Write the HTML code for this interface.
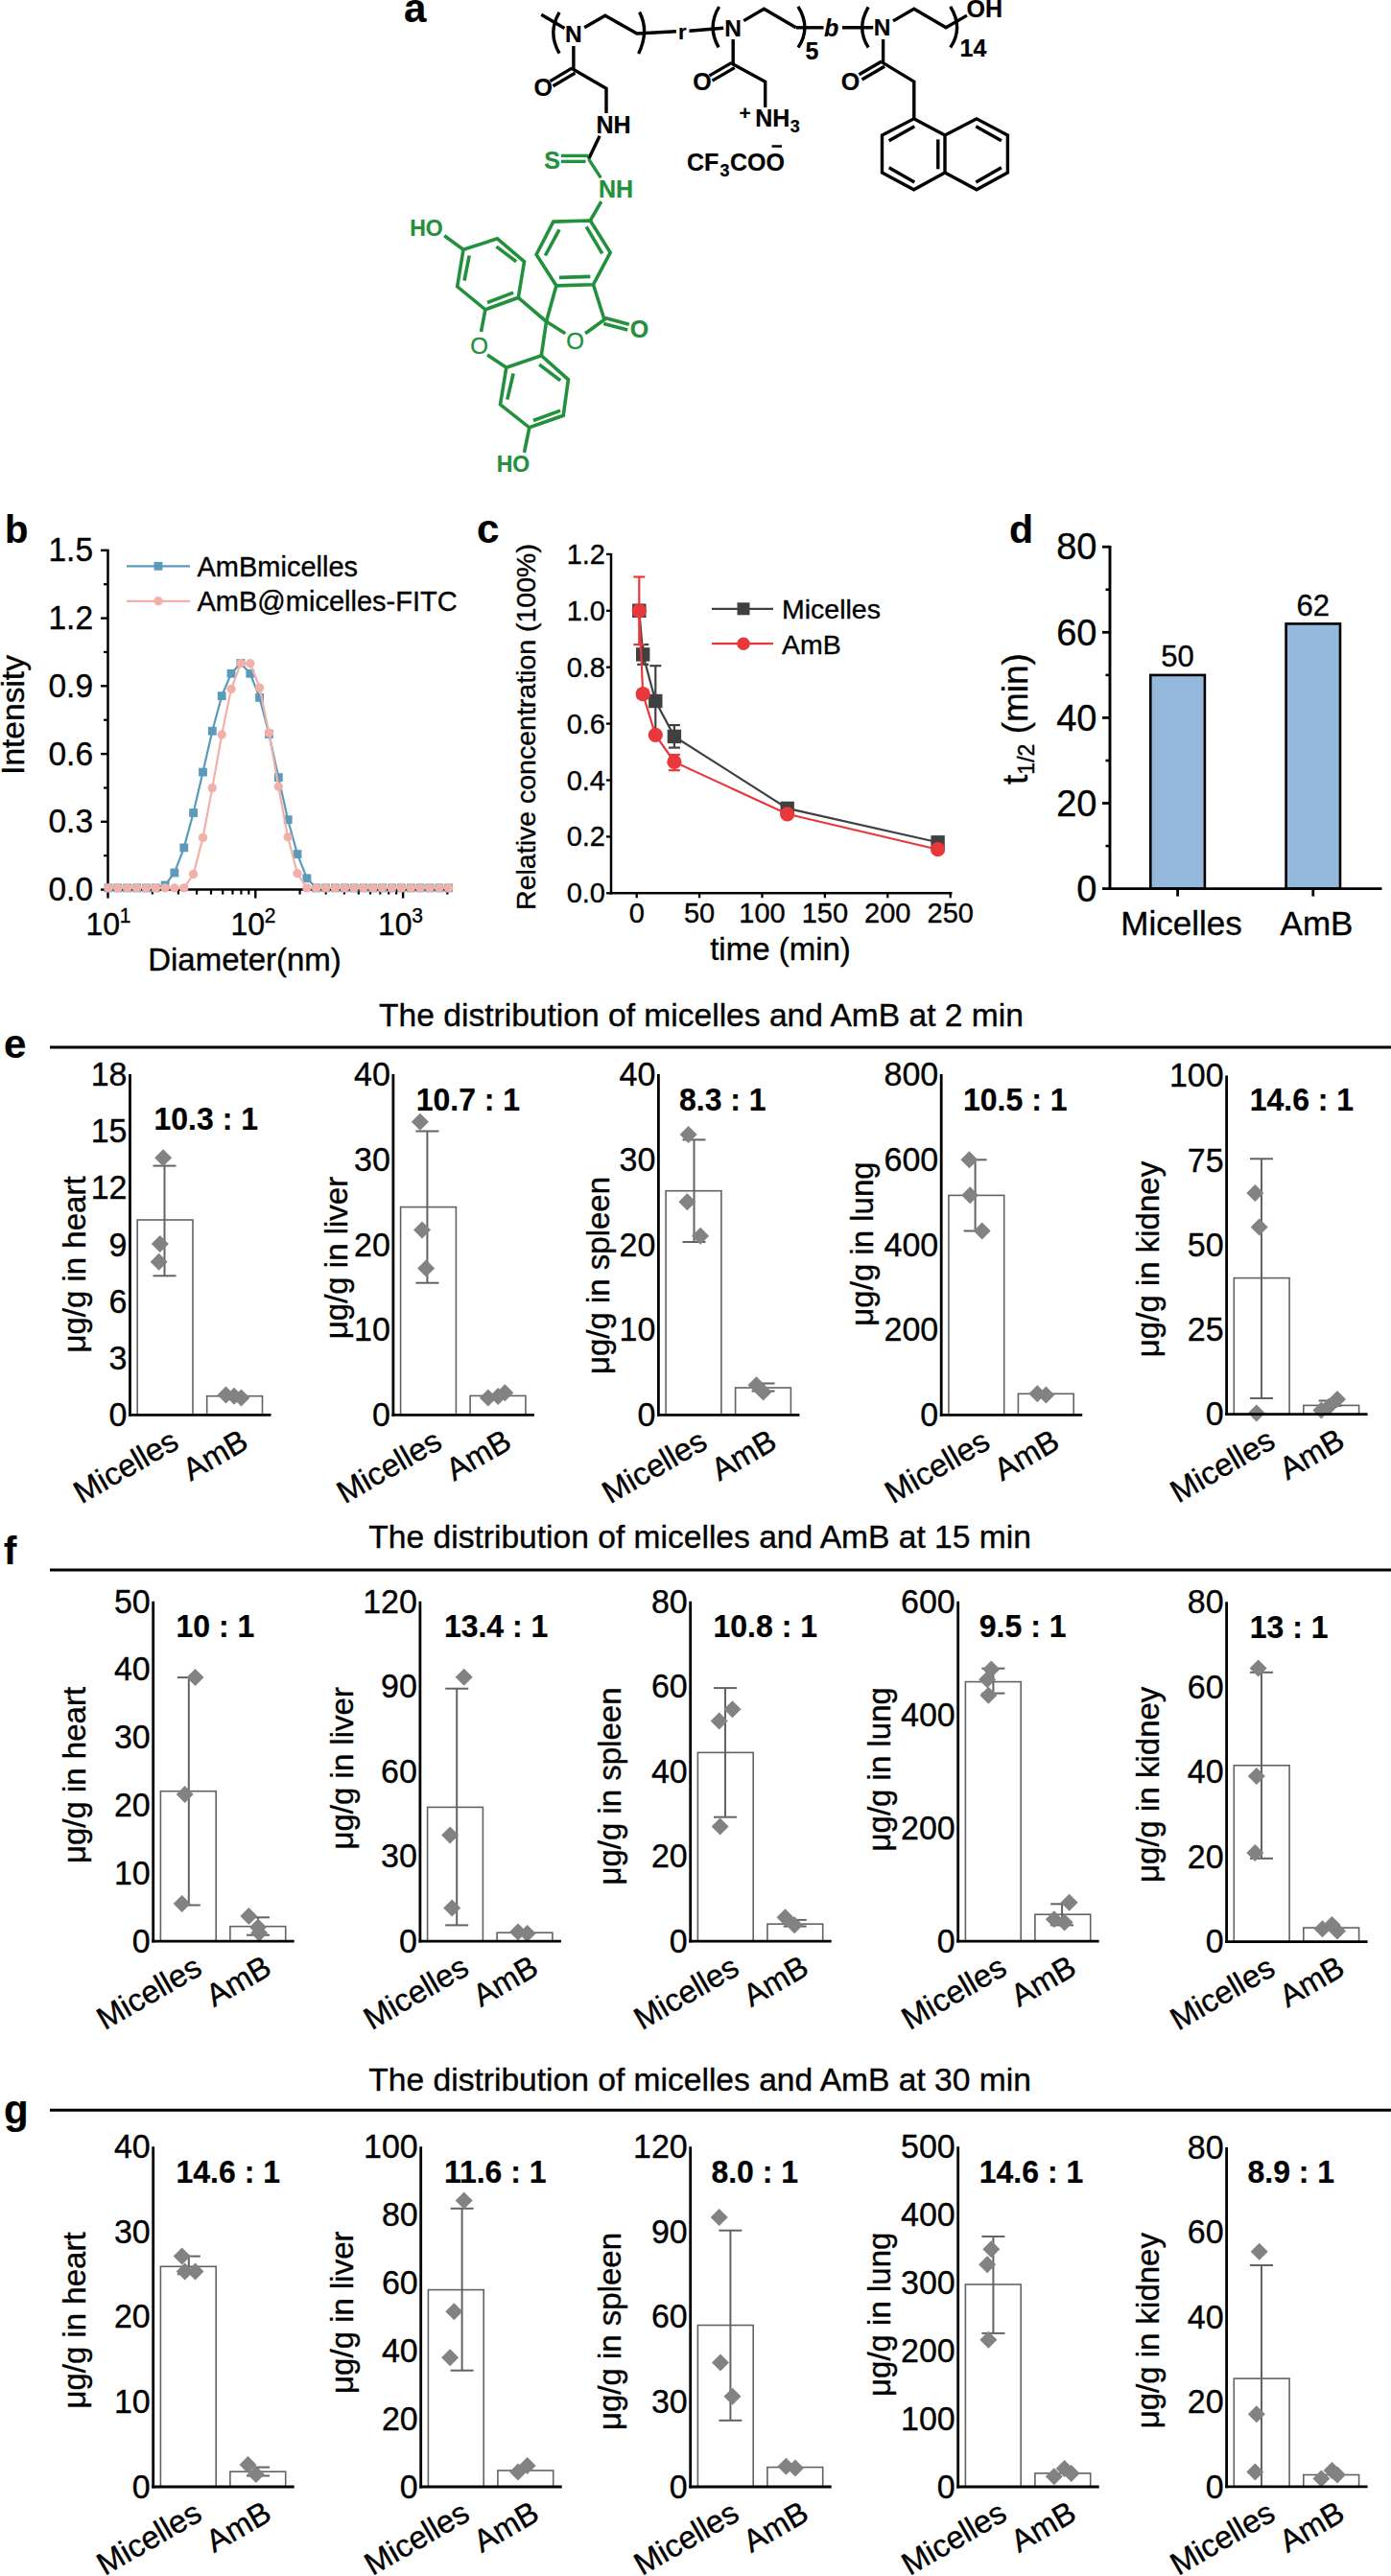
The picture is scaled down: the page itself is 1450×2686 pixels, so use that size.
<!DOCTYPE html><html><head><meta charset="utf-8"><style>html,body{margin:0;padding:0;background:#fff;width:1450px;height:2686px;overflow:hidden}svg{display:block;font-family:"Liberation Sans",sans-serif}</style></head><body><svg width="1450" height="2686" viewBox="0 0 1450 2686" font-family="Liberation Sans, sans-serif">
<rect width="1450" height="2686" fill="#fff"/>
<line x1="105.0" y1="927.6" x2="112.5" y2="927.6" stroke="#000" stroke-width="2.4" stroke-linecap="butt"/>
<text transform="translate(97.0,939.2) scale(1,1.04)" font-size="33.5" text-anchor="end" fill="#000" stroke="#000" stroke-width="0.35" >0.0</text>
<line x1="105.0" y1="856.8" x2="112.5" y2="856.8" stroke="#000" stroke-width="2.4" stroke-linecap="butt"/>
<text transform="translate(97.0,868.4) scale(1,1.04)" font-size="33.5" text-anchor="end" fill="#000" stroke="#000" stroke-width="0.35" >0.3</text>
<line x1="105.0" y1="786.1" x2="112.5" y2="786.1" stroke="#000" stroke-width="2.4" stroke-linecap="butt"/>
<text transform="translate(97.0,797.7) scale(1,1.04)" font-size="33.5" text-anchor="end" fill="#000" stroke="#000" stroke-width="0.35" >0.6</text>
<line x1="105.0" y1="715.3" x2="112.5" y2="715.3" stroke="#000" stroke-width="2.4" stroke-linecap="butt"/>
<text transform="translate(97.0,726.9) scale(1,1.04)" font-size="33.5" text-anchor="end" fill="#000" stroke="#000" stroke-width="0.35" >0.9</text>
<line x1="105.0" y1="644.6" x2="112.5" y2="644.6" stroke="#000" stroke-width="2.4" stroke-linecap="butt"/>
<text transform="translate(97.0,656.2) scale(1,1.04)" font-size="33.5" text-anchor="end" fill="#000" stroke="#000" stroke-width="0.35" >1.2</text>
<line x1="105.0" y1="573.8" x2="112.5" y2="573.8" stroke="#000" stroke-width="2.4" stroke-linecap="butt"/>
<text transform="translate(97.0,585.4) scale(1,1.04)" font-size="33.5" text-anchor="end" fill="#000" stroke="#000" stroke-width="0.35" >1.5</text>
<line x1="108.0" y1="892.2" x2="112.5" y2="892.2" stroke="#000" stroke-width="2.2" stroke-linecap="butt"/>
<line x1="108.0" y1="821.5" x2="112.5" y2="821.5" stroke="#000" stroke-width="2.2" stroke-linecap="butt"/>
<line x1="108.0" y1="750.7" x2="112.5" y2="750.7" stroke="#000" stroke-width="2.2" stroke-linecap="butt"/>
<line x1="108.0" y1="679.9" x2="112.5" y2="679.9" stroke="#000" stroke-width="2.2" stroke-linecap="butt"/>
<line x1="108.0" y1="609.2" x2="112.5" y2="609.2" stroke="#000" stroke-width="2.2" stroke-linecap="butt"/>
<line x1="112.5" y1="927.6" x2="112.5" y2="936.6" stroke="#000" stroke-width="2.4" stroke-linecap="butt"/>
<line x1="266.3" y1="927.6" x2="266.3" y2="936.6" stroke="#000" stroke-width="2.4" stroke-linecap="butt"/>
<line x1="420.1" y1="927.6" x2="420.1" y2="936.6" stroke="#000" stroke-width="2.4" stroke-linecap="butt"/>
<line x1="158.8" y1="927.6" x2="158.8" y2="932.6" stroke="#000" stroke-width="2.2" stroke-linecap="butt"/>
<line x1="185.9" y1="927.6" x2="185.9" y2="932.6" stroke="#000" stroke-width="2.2" stroke-linecap="butt"/>
<line x1="205.1" y1="927.6" x2="205.1" y2="932.6" stroke="#000" stroke-width="2.2" stroke-linecap="butt"/>
<line x1="220.0" y1="927.6" x2="220.0" y2="932.6" stroke="#000" stroke-width="2.2" stroke-linecap="butt"/>
<line x1="232.2" y1="927.6" x2="232.2" y2="932.6" stroke="#000" stroke-width="2.2" stroke-linecap="butt"/>
<line x1="242.5" y1="927.6" x2="242.5" y2="932.6" stroke="#000" stroke-width="2.2" stroke-linecap="butt"/>
<line x1="251.4" y1="927.6" x2="251.4" y2="932.6" stroke="#000" stroke-width="2.2" stroke-linecap="butt"/>
<line x1="259.3" y1="927.6" x2="259.3" y2="932.6" stroke="#000" stroke-width="2.2" stroke-linecap="butt"/>
<line x1="312.6" y1="927.6" x2="312.6" y2="932.6" stroke="#000" stroke-width="2.2" stroke-linecap="butt"/>
<line x1="339.7" y1="927.6" x2="339.7" y2="932.6" stroke="#000" stroke-width="2.2" stroke-linecap="butt"/>
<line x1="358.9" y1="927.6" x2="358.9" y2="932.6" stroke="#000" stroke-width="2.2" stroke-linecap="butt"/>
<line x1="373.8" y1="927.6" x2="373.8" y2="932.6" stroke="#000" stroke-width="2.2" stroke-linecap="butt"/>
<line x1="386.0" y1="927.6" x2="386.0" y2="932.6" stroke="#000" stroke-width="2.2" stroke-linecap="butt"/>
<line x1="396.3" y1="927.6" x2="396.3" y2="932.6" stroke="#000" stroke-width="2.2" stroke-linecap="butt"/>
<line x1="405.2" y1="927.6" x2="405.2" y2="932.6" stroke="#000" stroke-width="2.2" stroke-linecap="butt"/>
<line x1="413.1" y1="927.6" x2="413.1" y2="932.6" stroke="#000" stroke-width="2.2" stroke-linecap="butt"/>
<line x1="466.4" y1="927.6" x2="466.4" y2="932.6" stroke="#000" stroke-width="2.2" stroke-linecap="butt"/>
<line x1="112.5" y1="572.8" x2="112.5" y2="928.8" stroke="#000" stroke-width="2.5" stroke-linecap="butt"/>
<line x1="111.3" y1="927.6" x2="467.5" y2="927.6" stroke="#000" stroke-width="2.5" stroke-linecap="butt"/>
<text transform="translate(107.2,974.5) scale(1,1.04)" font-size="32" text-anchor="middle" fill="#000" stroke="#000" stroke-width="0.35" >10</text>
<text transform="translate(124.7,961.5) scale(1,1.04)" font-size="21" text-anchor="start" fill="#000" stroke="#000" stroke-width="0.35" >1</text>
<text transform="translate(258.2,974.5) scale(1,1.04)" font-size="32" text-anchor="middle" fill="#000" stroke="#000" stroke-width="0.35" >10</text>
<text transform="translate(275.7,961.5) scale(1,1.04)" font-size="21" text-anchor="start" fill="#000" stroke="#000" stroke-width="0.35" >2</text>
<text transform="translate(411.7,974.5) scale(1,1.04)" font-size="32" text-anchor="middle" fill="#000" stroke="#000" stroke-width="0.35" >10</text>
<text transform="translate(429.2,961.5) scale(1,1.04)" font-size="21" text-anchor="start" fill="#000" stroke="#000" stroke-width="0.35" >3</text>
<text transform="translate(255.0,1011.5) scale(1,1.0)" font-size="33" text-anchor="middle" fill="#000" stroke="#000" stroke-width="0.35" >Diameter(nm)</text>
<text transform="translate(24.8,745.5) rotate(-90) scale(1,1)" stroke="#000" stroke-width="0.35" font-size="33.5" text-anchor="middle">Intensity</text>
<polyline points="113.0,925.9 122.8,925.9 132.7,925.9 142.6,925.9 152.4,925.9 162.2,925.9 172.1,923.0 181.9,910.0 191.8,883.9 201.6,847.5 211.5,805.1 221.3,762.2 231.2,725.7 241.0,702.3 250.9,691.5 260.8,702.3 270.6,727.4 280.4,765.5 290.3,810.6 300.1,854.7 310.0,890.6 319.9,915.8 329.7,925.9 339.5,925.9 349.4,925.9 359.2,925.9 369.1,925.9 378.9,925.9 388.8,925.9 398.6,925.9 408.5,925.9 418.3,925.9 428.2,925.9 438.1,925.9 447.9,925.9 457.8,925.9 467.6,925.9" fill="none" stroke="#5b9aba" stroke-width="2.2"/>
<rect x="108.6" y="921.5" width="8.8" height="8.8" fill="#5b9aba"/>
<rect x="118.4" y="921.5" width="8.8" height="8.8" fill="#5b9aba"/>
<rect x="128.3" y="921.5" width="8.8" height="8.8" fill="#5b9aba"/>
<rect x="138.2" y="921.5" width="8.8" height="8.8" fill="#5b9aba"/>
<rect x="148.0" y="921.5" width="8.8" height="8.8" fill="#5b9aba"/>
<rect x="157.8" y="921.5" width="8.8" height="8.8" fill="#5b9aba"/>
<rect x="167.7" y="918.6" width="8.8" height="8.8" fill="#5b9aba"/>
<rect x="177.5" y="905.6" width="8.8" height="8.8" fill="#5b9aba"/>
<rect x="187.4" y="879.5" width="8.8" height="8.8" fill="#5b9aba"/>
<rect x="197.2" y="843.1" width="8.8" height="8.8" fill="#5b9aba"/>
<rect x="207.1" y="800.7" width="8.8" height="8.8" fill="#5b9aba"/>
<rect x="216.9" y="757.8" width="8.8" height="8.8" fill="#5b9aba"/>
<rect x="226.8" y="721.3" width="8.8" height="8.8" fill="#5b9aba"/>
<rect x="236.6" y="697.9" width="8.8" height="8.8" fill="#5b9aba"/>
<rect x="246.5" y="687.1" width="8.8" height="8.8" fill="#5b9aba"/>
<rect x="256.4" y="697.9" width="8.8" height="8.8" fill="#5b9aba"/>
<rect x="266.2" y="723.0" width="8.8" height="8.8" fill="#5b9aba"/>
<rect x="276.1" y="761.1" width="8.8" height="8.8" fill="#5b9aba"/>
<rect x="285.9" y="806.2" width="8.8" height="8.8" fill="#5b9aba"/>
<rect x="295.8" y="850.3" width="8.8" height="8.8" fill="#5b9aba"/>
<rect x="305.6" y="886.2" width="8.8" height="8.8" fill="#5b9aba"/>
<rect x="315.5" y="911.4" width="8.8" height="8.8" fill="#5b9aba"/>
<rect x="325.3" y="921.5" width="8.8" height="8.8" fill="#5b9aba"/>
<rect x="335.1" y="921.5" width="8.8" height="8.8" fill="#5b9aba"/>
<rect x="345.0" y="921.5" width="8.8" height="8.8" fill="#5b9aba"/>
<rect x="354.9" y="921.5" width="8.8" height="8.8" fill="#5b9aba"/>
<rect x="364.7" y="921.5" width="8.8" height="8.8" fill="#5b9aba"/>
<rect x="374.6" y="921.5" width="8.8" height="8.8" fill="#5b9aba"/>
<rect x="384.4" y="921.5" width="8.8" height="8.8" fill="#5b9aba"/>
<rect x="394.2" y="921.5" width="8.8" height="8.8" fill="#5b9aba"/>
<rect x="404.1" y="921.5" width="8.8" height="8.8" fill="#5b9aba"/>
<rect x="413.9" y="921.5" width="8.8" height="8.8" fill="#5b9aba"/>
<rect x="423.8" y="921.5" width="8.8" height="8.8" fill="#5b9aba"/>
<rect x="433.7" y="921.5" width="8.8" height="8.8" fill="#5b9aba"/>
<rect x="443.5" y="921.5" width="8.8" height="8.8" fill="#5b9aba"/>
<rect x="453.4" y="921.5" width="8.8" height="8.8" fill="#5b9aba"/>
<rect x="463.2" y="921.5" width="8.8" height="8.8" fill="#5b9aba"/>
<polyline points="113.0,925.9 122.8,925.9 132.7,925.9 142.6,925.9 152.4,925.9 162.2,925.9 172.1,925.9 181.9,925.9 191.8,925.9 201.6,911.5 211.5,873.4 221.3,821.6 231.2,766.0 241.0,718.5 250.9,691.8 260.8,691.8 270.6,717.1 280.4,764.1 290.3,820.2 300.1,872.7 310.0,910.8 319.9,925.9 329.7,925.9 339.5,925.9 349.4,925.9 359.2,925.9 369.1,925.9 378.9,925.9 388.8,925.9 398.6,925.9 408.5,925.9 418.3,925.9 428.2,925.9 438.1,925.9 447.9,925.9 457.8,925.9 467.6,925.9" fill="none" stroke="#f1b1a9" stroke-width="2.2"/>
<circle cx="113.0" cy="925.9" r="4.7" fill="#f1b1a9"/>
<circle cx="122.8" cy="925.9" r="4.7" fill="#f1b1a9"/>
<circle cx="132.7" cy="925.9" r="4.7" fill="#f1b1a9"/>
<circle cx="142.6" cy="925.9" r="4.7" fill="#f1b1a9"/>
<circle cx="152.4" cy="925.9" r="4.7" fill="#f1b1a9"/>
<circle cx="162.2" cy="925.9" r="4.7" fill="#f1b1a9"/>
<circle cx="172.1" cy="925.9" r="4.7" fill="#f1b1a9"/>
<circle cx="181.9" cy="925.9" r="4.7" fill="#f1b1a9"/>
<circle cx="191.8" cy="925.9" r="4.7" fill="#f1b1a9"/>
<circle cx="201.6" cy="911.5" r="4.7" fill="#f1b1a9"/>
<circle cx="211.5" cy="873.4" r="4.7" fill="#f1b1a9"/>
<circle cx="221.3" cy="821.6" r="4.7" fill="#f1b1a9"/>
<circle cx="231.2" cy="766.0" r="4.7" fill="#f1b1a9"/>
<circle cx="241.0" cy="718.5" r="4.7" fill="#f1b1a9"/>
<circle cx="250.9" cy="691.8" r="4.7" fill="#f1b1a9"/>
<circle cx="260.8" cy="691.8" r="4.7" fill="#f1b1a9"/>
<circle cx="270.6" cy="717.1" r="4.7" fill="#f1b1a9"/>
<circle cx="280.4" cy="764.1" r="4.7" fill="#f1b1a9"/>
<circle cx="290.3" cy="820.2" r="4.7" fill="#f1b1a9"/>
<circle cx="300.1" cy="872.7" r="4.7" fill="#f1b1a9"/>
<circle cx="310.0" cy="910.8" r="4.7" fill="#f1b1a9"/>
<circle cx="319.9" cy="925.9" r="4.7" fill="#f1b1a9"/>
<circle cx="329.7" cy="925.9" r="4.7" fill="#f1b1a9"/>
<circle cx="339.5" cy="925.9" r="4.7" fill="#f1b1a9"/>
<circle cx="349.4" cy="925.9" r="4.7" fill="#f1b1a9"/>
<circle cx="359.2" cy="925.9" r="4.7" fill="#f1b1a9"/>
<circle cx="369.1" cy="925.9" r="4.7" fill="#f1b1a9"/>
<circle cx="378.9" cy="925.9" r="4.7" fill="#f1b1a9"/>
<circle cx="388.8" cy="925.9" r="4.7" fill="#f1b1a9"/>
<circle cx="398.6" cy="925.9" r="4.7" fill="#f1b1a9"/>
<circle cx="408.5" cy="925.9" r="4.7" fill="#f1b1a9"/>
<circle cx="418.3" cy="925.9" r="4.7" fill="#f1b1a9"/>
<circle cx="428.2" cy="925.9" r="4.7" fill="#f1b1a9"/>
<circle cx="438.1" cy="925.9" r="4.7" fill="#f1b1a9"/>
<circle cx="447.9" cy="925.9" r="4.7" fill="#f1b1a9"/>
<circle cx="457.8" cy="925.9" r="4.7" fill="#f1b1a9"/>
<circle cx="467.6" cy="925.9" r="4.7" fill="#f1b1a9"/>
<line x1="132.0" y1="590.3" x2="198.0" y2="590.3" stroke="#5b9aba" stroke-width="2.2" stroke-linecap="butt"/>
<rect x="160.6" y="585.9" width="8.8" height="8.8" fill="#5b9aba"/>
<text transform="translate(205.5,600.5) scale(1,1.0)" font-size="29" text-anchor="start" fill="#000" stroke="#000" stroke-width="0.35" >AmBmicelles</text>
<line x1="132.0" y1="626.8" x2="198.0" y2="626.8" stroke="#f1b1a9" stroke-width="2.2" stroke-linecap="butt"/>
<circle cx="165" cy="626.8" r="4.7" fill="#f1b1a9"/>
<text transform="translate(205.5,637.0) scale(1,1.0)" font-size="29" text-anchor="start" fill="#000" stroke="#000" stroke-width="0.35" >AmB@micelles-FITC</text>
<line x1="632.0" y1="931.3" x2="637.0" y2="931.3" stroke="#000" stroke-width="2.3" stroke-linecap="butt"/>
<text transform="translate(631.0,941.3) scale(1,1.04)" font-size="29" text-anchor="end" fill="#000" stroke="#000" stroke-width="0.35" >0.0</text>
<line x1="632.0" y1="872.4" x2="637.0" y2="872.4" stroke="#000" stroke-width="2.3" stroke-linecap="butt"/>
<text transform="translate(631.0,882.4) scale(1,1.04)" font-size="29" text-anchor="end" fill="#000" stroke="#000" stroke-width="0.35" >0.2</text>
<line x1="632.0" y1="813.5" x2="637.0" y2="813.5" stroke="#000" stroke-width="2.3" stroke-linecap="butt"/>
<text transform="translate(631.0,823.5) scale(1,1.04)" font-size="29" text-anchor="end" fill="#000" stroke="#000" stroke-width="0.35" >0.4</text>
<line x1="632.0" y1="754.6" x2="637.0" y2="754.6" stroke="#000" stroke-width="2.3" stroke-linecap="butt"/>
<text transform="translate(631.0,764.6) scale(1,1.04)" font-size="29" text-anchor="end" fill="#000" stroke="#000" stroke-width="0.35" >0.6</text>
<line x1="632.0" y1="695.7" x2="637.0" y2="695.7" stroke="#000" stroke-width="2.3" stroke-linecap="butt"/>
<text transform="translate(631.0,705.7) scale(1,1.04)" font-size="29" text-anchor="end" fill="#000" stroke="#000" stroke-width="0.35" >0.8</text>
<line x1="632.0" y1="636.8" x2="637.0" y2="636.8" stroke="#000" stroke-width="2.3" stroke-linecap="butt"/>
<text transform="translate(631.0,646.8) scale(1,1.04)" font-size="29" text-anchor="end" fill="#000" stroke="#000" stroke-width="0.35" >1.0</text>
<line x1="632.0" y1="577.9" x2="637.0" y2="577.9" stroke="#000" stroke-width="2.3" stroke-linecap="butt"/>
<text transform="translate(631.0,587.9) scale(1,1.04)" font-size="29" text-anchor="end" fill="#000" stroke="#000" stroke-width="0.35" >1.2</text>
<line x1="663.7" y1="931.3" x2="663.7" y2="936.3" stroke="#000" stroke-width="2.3" stroke-linecap="butt"/>
<text transform="translate(663.7,962.0) scale(1,1.04)" font-size="29" text-anchor="middle" fill="#000" stroke="#000" stroke-width="0.35" >0</text>
<line x1="729.1" y1="931.3" x2="729.1" y2="936.3" stroke="#000" stroke-width="2.3" stroke-linecap="butt"/>
<text transform="translate(729.1,962.0) scale(1,1.04)" font-size="29" text-anchor="middle" fill="#000" stroke="#000" stroke-width="0.35" >50</text>
<line x1="794.5" y1="931.3" x2="794.5" y2="936.3" stroke="#000" stroke-width="2.3" stroke-linecap="butt"/>
<text transform="translate(794.5,962.0) scale(1,1.04)" font-size="29" text-anchor="middle" fill="#000" stroke="#000" stroke-width="0.35" >100</text>
<line x1="859.9" y1="931.3" x2="859.9" y2="936.3" stroke="#000" stroke-width="2.3" stroke-linecap="butt"/>
<text transform="translate(859.9,962.0) scale(1,1.04)" font-size="29" text-anchor="middle" fill="#000" stroke="#000" stroke-width="0.35" >150</text>
<line x1="925.3" y1="931.3" x2="925.3" y2="936.3" stroke="#000" stroke-width="2.3" stroke-linecap="butt"/>
<text transform="translate(925.3,962.0) scale(1,1.04)" font-size="29" text-anchor="middle" fill="#000" stroke="#000" stroke-width="0.35" >200</text>
<line x1="990.7" y1="931.3" x2="990.7" y2="936.3" stroke="#000" stroke-width="2.3" stroke-linecap="butt"/>
<text transform="translate(990.7,962.0) scale(1,1.04)" font-size="29" text-anchor="middle" fill="#000" stroke="#000" stroke-width="0.35" >250</text>
<line x1="637.0" y1="577.0" x2="637.0" y2="932.5" stroke="#000" stroke-width="2.5" stroke-linecap="butt"/>
<line x1="635.8" y1="931.3" x2="992.5" y2="931.3" stroke="#000" stroke-width="2.5" stroke-linecap="butt"/>
<text transform="translate(813.5,1001.0) scale(1,1.0)" font-size="33" text-anchor="middle" fill="#000" stroke="#000" stroke-width="0.35" >time (min)</text>
<text transform="translate(557.5,758) rotate(-90) scale(1,1)" stroke="#000" stroke-width="0.35" font-size="28.5" text-anchor="middle">Relative concentration (100%)</text>
<polyline points="666.3,636.8 670.2,682.4 683.3,731.0 702.9,767.9 820.7,842.9 977.6,878.3" fill="none" stroke="#404040" stroke-width="2.2"/>
<line x1="666.3" y1="630.9" x2="666.3" y2="642.7" stroke="#404040" stroke-width="2.2" stroke-linecap="butt"/>
<line x1="660.3" y1="630.9" x2="672.3" y2="630.9" stroke="#404040" stroke-width="2.2" stroke-linecap="butt"/>
<line x1="660.3" y1="642.7" x2="672.3" y2="642.7" stroke="#404040" stroke-width="2.2" stroke-linecap="butt"/>
<line x1="670.2" y1="672.1" x2="670.2" y2="692.8" stroke="#404040" stroke-width="2.2" stroke-linecap="butt"/>
<line x1="664.2" y1="672.1" x2="676.2" y2="672.1" stroke="#404040" stroke-width="2.2" stroke-linecap="butt"/>
<line x1="664.2" y1="692.8" x2="676.2" y2="692.8" stroke="#404040" stroke-width="2.2" stroke-linecap="butt"/>
<line x1="683.3" y1="694.2" x2="683.3" y2="766.4" stroke="#404040" stroke-width="2.2" stroke-linecap="butt"/>
<line x1="677.3" y1="694.2" x2="689.3" y2="694.2" stroke="#404040" stroke-width="2.2" stroke-linecap="butt"/>
<line x1="677.3" y1="766.4" x2="689.3" y2="766.4" stroke="#404040" stroke-width="2.2" stroke-linecap="butt"/>
<line x1="702.9" y1="756.1" x2="702.9" y2="779.6" stroke="#404040" stroke-width="2.2" stroke-linecap="butt"/>
<line x1="696.9" y1="756.1" x2="708.9" y2="756.1" stroke="#404040" stroke-width="2.2" stroke-linecap="butt"/>
<line x1="696.9" y1="779.6" x2="708.9" y2="779.6" stroke="#404040" stroke-width="2.2" stroke-linecap="butt"/>
<line x1="820.7" y1="840.0" x2="820.7" y2="845.9" stroke="#404040" stroke-width="2.2" stroke-linecap="butt"/>
<line x1="814.7" y1="840.0" x2="826.7" y2="840.0" stroke="#404040" stroke-width="2.2" stroke-linecap="butt"/>
<line x1="814.7" y1="845.9" x2="826.7" y2="845.9" stroke="#404040" stroke-width="2.2" stroke-linecap="butt"/>
<line x1="977.6" y1="875.3" x2="977.6" y2="881.2" stroke="#404040" stroke-width="2.2" stroke-linecap="butt"/>
<line x1="971.6" y1="875.3" x2="983.6" y2="875.3" stroke="#404040" stroke-width="2.2" stroke-linecap="butt"/>
<line x1="971.6" y1="881.2" x2="983.6" y2="881.2" stroke="#404040" stroke-width="2.2" stroke-linecap="butt"/>
<rect x="659.1" y="629.6" width="14.4" height="14.4" fill="#404040"/>
<rect x="663.0" y="675.2" width="14.4" height="14.4" fill="#404040"/>
<rect x="676.1" y="723.8" width="14.4" height="14.4" fill="#404040"/>
<rect x="695.7" y="760.7" width="14.4" height="14.4" fill="#404040"/>
<rect x="813.5" y="835.7" width="14.4" height="14.4" fill="#404040"/>
<rect x="970.4" y="871.1" width="14.4" height="14.4" fill="#404040"/>
<polyline points="666.3,636.8 670.2,723.7 683.3,766.4 702.9,794.4 820.7,848.8 977.6,885.7" fill="none" stroke="#e8383b" stroke-width="2.2"/>
<line x1="666.3" y1="601.5" x2="666.3" y2="672.1" stroke="#e8383b" stroke-width="2.2" stroke-linecap="butt"/>
<line x1="660.3" y1="601.5" x2="672.3" y2="601.5" stroke="#e8383b" stroke-width="2.2" stroke-linecap="butt"/>
<line x1="660.3" y1="672.1" x2="672.3" y2="672.1" stroke="#e8383b" stroke-width="2.2" stroke-linecap="butt"/>
<line x1="670.2" y1="719.3" x2="670.2" y2="728.1" stroke="#e8383b" stroke-width="2.2" stroke-linecap="butt"/>
<line x1="664.2" y1="719.3" x2="676.2" y2="719.3" stroke="#e8383b" stroke-width="2.2" stroke-linecap="butt"/>
<line x1="664.2" y1="728.1" x2="676.2" y2="728.1" stroke="#e8383b" stroke-width="2.2" stroke-linecap="butt"/>
<line x1="683.3" y1="764.9" x2="683.3" y2="767.9" stroke="#e8383b" stroke-width="2.2" stroke-linecap="butt"/>
<line x1="677.3" y1="764.9" x2="689.3" y2="764.9" stroke="#e8383b" stroke-width="2.2" stroke-linecap="butt"/>
<line x1="677.3" y1="767.9" x2="689.3" y2="767.9" stroke="#e8383b" stroke-width="2.2" stroke-linecap="butt"/>
<line x1="702.9" y1="787.0" x2="702.9" y2="803.2" stroke="#e8383b" stroke-width="2.2" stroke-linecap="butt"/>
<line x1="696.9" y1="787.0" x2="708.9" y2="787.0" stroke="#e8383b" stroke-width="2.2" stroke-linecap="butt"/>
<line x1="696.9" y1="803.2" x2="708.9" y2="803.2" stroke="#e8383b" stroke-width="2.2" stroke-linecap="butt"/>
<line x1="820.7" y1="847.4" x2="820.7" y2="850.3" stroke="#e8383b" stroke-width="2.2" stroke-linecap="butt"/>
<line x1="814.7" y1="847.4" x2="826.7" y2="847.4" stroke="#e8383b" stroke-width="2.2" stroke-linecap="butt"/>
<line x1="814.7" y1="850.3" x2="826.7" y2="850.3" stroke="#e8383b" stroke-width="2.2" stroke-linecap="butt"/>
<line x1="977.6" y1="884.2" x2="977.6" y2="887.1" stroke="#e8383b" stroke-width="2.2" stroke-linecap="butt"/>
<line x1="971.6" y1="884.2" x2="983.6" y2="884.2" stroke="#e8383b" stroke-width="2.2" stroke-linecap="butt"/>
<line x1="971.6" y1="887.1" x2="983.6" y2="887.1" stroke="#e8383b" stroke-width="2.2" stroke-linecap="butt"/>
<circle cx="666.3" cy="636.8" r="7.6" fill="#e8383b"/>
<circle cx="670.2" cy="723.7" r="7.6" fill="#e8383b"/>
<circle cx="683.3" cy="766.4" r="7.6" fill="#e8383b"/>
<circle cx="702.9" cy="794.4" r="7.6" fill="#e8383b"/>
<circle cx="820.7" cy="848.8" r="7.6" fill="#e8383b"/>
<circle cx="977.6" cy="885.7" r="7.6" fill="#e8383b"/>
<line x1="742.0" y1="634.8" x2="806.0" y2="634.8" stroke="#404040" stroke-width="2.2" stroke-linecap="butt"/>
<rect x="768.5" y="628.3" width="13" height="13" fill="#404040"/>
<text transform="translate(815.0,645.3) scale(1,1.0)" font-size="28.5" text-anchor="start" fill="#000" stroke="#000" stroke-width="0.35" >Micelles</text>
<line x1="742.0" y1="671.2" x2="806.0" y2="671.2" stroke="#e8383b" stroke-width="2.2" stroke-linecap="butt"/>
<circle cx="775" cy="671.2" r="6.8" fill="#e8383b"/>
<text transform="translate(815.0,681.5) scale(1,1.0)" font-size="28.5" text-anchor="start" fill="#000" stroke="#000" stroke-width="0.35" >AmB</text>
<line x1="1149.0" y1="926.6" x2="1157.0" y2="926.6" stroke="#000" stroke-width="2.8" stroke-linecap="butt"/>
<text transform="translate(1143.5,939.8) scale(1,1.04)" font-size="38" text-anchor="end" fill="#000" stroke="#000" stroke-width="0.35" >0</text>
<line x1="1149.0" y1="837.5" x2="1157.0" y2="837.5" stroke="#000" stroke-width="2.8" stroke-linecap="butt"/>
<text transform="translate(1143.5,850.7) scale(1,1.04)" font-size="38" text-anchor="end" fill="#000" stroke="#000" stroke-width="0.35" >20</text>
<line x1="1149.0" y1="748.4" x2="1157.0" y2="748.4" stroke="#000" stroke-width="2.8" stroke-linecap="butt"/>
<text transform="translate(1143.5,761.6) scale(1,1.04)" font-size="38" text-anchor="end" fill="#000" stroke="#000" stroke-width="0.35" >40</text>
<line x1="1149.0" y1="659.3" x2="1157.0" y2="659.3" stroke="#000" stroke-width="2.8" stroke-linecap="butt"/>
<text transform="translate(1143.5,672.5) scale(1,1.04)" font-size="38" text-anchor="end" fill="#000" stroke="#000" stroke-width="0.35" >60</text>
<line x1="1149.0" y1="570.2" x2="1157.0" y2="570.2" stroke="#000" stroke-width="2.8" stroke-linecap="butt"/>
<text transform="translate(1143.5,583.4) scale(1,1.04)" font-size="38" text-anchor="end" fill="#000" stroke="#000" stroke-width="0.35" >80</text>
<line x1="1152.5" y1="882.1" x2="1157.0" y2="882.1" stroke="#000" stroke-width="2.6" stroke-linecap="butt"/>
<line x1="1152.5" y1="793.0" x2="1157.0" y2="793.0" stroke="#000" stroke-width="2.6" stroke-linecap="butt"/>
<line x1="1152.5" y1="703.9" x2="1157.0" y2="703.9" stroke="#000" stroke-width="2.6" stroke-linecap="butt"/>
<line x1="1152.5" y1="614.8" x2="1157.0" y2="614.8" stroke="#000" stroke-width="2.6" stroke-linecap="butt"/>
<rect x="1199.3" y="703.9" width="56.6" height="222.8" fill="#95b8dd" stroke="#000" stroke-width="2.6"/>
<line x1="1227.6" y1="926.6" x2="1227.6" y2="934.6" stroke="#000" stroke-width="2.8" stroke-linecap="butt"/>
<text transform="translate(1227.6,695.4) scale(1,1.04)" font-size="31" text-anchor="middle" fill="#000" stroke="#000" stroke-width="0.35" >50</text>
<rect x="1340.6" y="650.4" width="56.4" height="276.2" fill="#95b8dd" stroke="#000" stroke-width="2.6"/>
<line x1="1368.8" y1="926.6" x2="1368.8" y2="934.6" stroke="#000" stroke-width="2.8" stroke-linecap="butt"/>
<text transform="translate(1368.8,641.9) scale(1,1.04)" font-size="31" text-anchor="middle" fill="#000" stroke="#000" stroke-width="0.35" >62</text>
<line x1="1157.0" y1="568.9" x2="1157.0" y2="928.0" stroke="#000" stroke-width="2.9" stroke-linecap="butt"/>
<line x1="1155.6" y1="926.6" x2="1440.5" y2="926.6" stroke="#000" stroke-width="2.9" stroke-linecap="butt"/>
<text transform="translate(1231.5,975.3) scale(1,1.0)" font-size="35" text-anchor="middle" fill="#000" stroke="#000" stroke-width="0.35" >Micelles</text>
<text transform="translate(1372.5,975.3) scale(1,1.0)" font-size="35" text-anchor="middle" fill="#000" stroke="#000" stroke-width="0.35" >AmB</text>
<text transform="translate(1071,749.5) rotate(-90) scale(1,1)" stroke="#000" stroke-width="0.35" font-size="37" text-anchor="middle">t<tspan font-size="23" dy="7">1/2</tspan><tspan dy="-7"> (min)</tspan></text>
<polyline points="564.3,15.3 588.5,29.5" fill="none" stroke="#000" stroke-width="3.4" stroke-linejoin="miter" stroke-linecap="butt"/>
<path d="M583.1,12.9 Q570.5,33.9 583.1,55.7" fill="none" stroke="#000" stroke-width="3.4"/>
<text transform="translate(597.9,43.5) scale(1,1.0)" font-size="24.5" text-anchor="middle" font-weight="bold" fill="#000" stroke="#000" stroke-width="0.2" >N</text>
<polyline points="609.2,28.8 630.8,16.2 664.0,35.0 704.9,32.7" fill="none" stroke="#000" stroke-width="3.4" stroke-linejoin="miter" stroke-linecap="butt"/>
<path d="M666.6,12.6 Q677.1,32.2 665.6,55.9" fill="none" stroke="#000" stroke-width="3.4"/>
<text transform="translate(711.3,41.3) scale(1,1.0)" font-size="22" text-anchor="middle" font-weight="bold" fill="#000" stroke="#000" stroke-width="0.2" >r</text>
<polyline points="718.4,32.2 754.2,29.2" fill="none" stroke="#000" stroke-width="3.4" stroke-linejoin="miter" stroke-linecap="butt"/>
<polyline points="597.9,48.0 597.9,72.5 632.0,92.2 632.0,118.0" fill="none" stroke="#000" stroke-width="3.4" stroke-linejoin="miter" stroke-linecap="butt"/>
<polyline points="596.5,70.9 573.5,84.6" fill="none" stroke="#000" stroke-width="3.4" stroke-linejoin="miter" stroke-linecap="butt"/>
<polyline points="599.5,76.1 576.5,89.8" fill="none" stroke="#000" stroke-width="3.4" stroke-linejoin="miter" stroke-linecap="butt"/>
<text transform="translate(566.3,100.0) scale(1,1.0)" font-size="25" text-anchor="middle" font-weight="bold" fill="#000" stroke="#000" stroke-width="0.2" >O</text>
<text transform="translate(639.5,138.5) scale(1,1.0)" font-size="25" text-anchor="middle" font-weight="bold" fill="#000" stroke="#000" stroke-width="0.2" >NH</text>
<polyline points="625.1,141.7 613.6,165.8" fill="none" stroke="#000" stroke-width="3.4" stroke-linejoin="miter" stroke-linecap="butt"/>
<polyline points="584.9,162.4 613.6,162.4" fill="none" stroke="#22903c" stroke-width="3.4" stroke-linejoin="miter" stroke-linecap="butt"/>
<polyline points="584.9,168.4 610.5,168.4" fill="none" stroke="#22903c" stroke-width="3.4" stroke-linejoin="miter" stroke-linecap="butt"/>
<polyline points="613.6,165.8 626.3,185.4" fill="none" stroke="#22903c" stroke-width="3.4" stroke-linejoin="miter" stroke-linecap="butt"/>
<text transform="translate(575.7,175.5) scale(1,1.0)" font-size="25" text-anchor="middle" font-weight="bold" fill="#22903c" stroke="#22903c" stroke-width="0.2" >S</text>
<text transform="translate(642.0,206.2) scale(1,1.0)" font-size="25" text-anchor="middle" font-weight="bold" fill="#22903c" stroke="#22903c" stroke-width="0.2" >NH</text>
<path d="M749.6,7.0 Q736.9,28.2 749.1,49.3" fill="none" stroke="#000" stroke-width="3.4"/>
<text transform="translate(764.0,37.8) scale(1,1.0)" font-size="24.5" text-anchor="middle" font-weight="bold" fill="#000" stroke="#000" stroke-width="0.2" >N</text>
<polyline points="775.3,21.6 796.4,9.2 829.7,28.8" fill="none" stroke="#000" stroke-width="3.4" stroke-linejoin="miter" stroke-linecap="butt"/>
<path d="M832.0,6.9 Q845.8,29.4 832.0,49.5" fill="none" stroke="#000" stroke-width="3.4"/>
<polyline points="829.7,28.8 858.5,28.8" fill="none" stroke="#000" stroke-width="3.4" stroke-linejoin="miter" stroke-linecap="butt"/>
<text transform="translate(846.5,62.0) scale(1,1.04)" font-size="25" text-anchor="middle" font-weight="bold" fill="#000" stroke="#000" stroke-width="0.2" >5</text>
<text transform="translate(859.0,38.0) scale(1,1.0)" font-size="25" text-anchor="start" font-weight="bold" font-style="italic" fill="#000" stroke="#000" stroke-width="0.2" >b</text>
<polyline points="878.0,28.8 910.2,28.8" fill="none" stroke="#000" stroke-width="3.4" stroke-linejoin="miter" stroke-linecap="butt"/>
<polyline points="764.2,41.0 764.2,67.0 797.7,85.3 797.7,112.0" fill="none" stroke="#000" stroke-width="3.4" stroke-linejoin="miter" stroke-linecap="butt"/>
<polyline points="762.8,65.4 739.5,78.9" fill="none" stroke="#000" stroke-width="3.4" stroke-linejoin="miter" stroke-linecap="butt"/>
<polyline points="765.8,70.6 742.5,84.1" fill="none" stroke="#000" stroke-width="3.4" stroke-linejoin="miter" stroke-linecap="butt"/>
<text transform="translate(732.0,93.8) scale(1,1.0)" font-size="25" text-anchor="middle" font-weight="bold" fill="#000" stroke="#000" stroke-width="0.2" >O</text>
<text transform="translate(770.5,124.5) scale(1,1.0)" font-size="21" text-anchor="start" font-weight="bold" fill="#000" stroke="#000" stroke-width="0.2" >+</text>
<text transform="translate(787.3,132.4) scale(1,1.0)" font-size="25" text-anchor="start" font-weight="bold" fill="#000" stroke="#000" stroke-width="0.2" >NH</text>
<text transform="translate(823.8,137.6) scale(1,1.04)" font-size="18" text-anchor="start" font-weight="bold" fill="#000" stroke="#000" stroke-width="0.2" >3</text>
<text transform="translate(716.0,177.8) scale(1,1.0)" font-size="25" text-anchor="start" font-weight="bold" fill="#000" stroke="#000" stroke-width="0.2" >CF</text>
<text transform="translate(750.5,183.6) scale(1,1.04)" font-size="18" text-anchor="start" font-weight="bold" fill="#000" stroke="#000" stroke-width="0.2" >3</text>
<text transform="translate(761.0,177.8) scale(1,1.0)" font-size="25" text-anchor="start" font-weight="bold" fill="#000" stroke="#000" stroke-width="0.2" >COO</text>
<polyline points="804.6,152.5 815.0,152.5" fill="none" stroke="#000" stroke-width="2.5" stroke-linejoin="miter" stroke-linecap="butt"/>
<path d="M905.2,7.4 Q892.2,29.2 905.2,49.5" fill="none" stroke="#000" stroke-width="3.4"/>
<text transform="translate(919.6,37.2) scale(1,1.0)" font-size="24.5" text-anchor="middle" font-weight="bold" fill="#000" stroke="#000" stroke-width="0.2" >N</text>
<polyline points="931.0,21.9 952.8,9.2 986.1,28.8 1008.0,16.1" fill="none" stroke="#000" stroke-width="3.4" stroke-linejoin="miter" stroke-linecap="butt"/>
<path d="M990.7,6.9 Q1004.5,29.4 990.7,49.5" fill="none" stroke="#000" stroke-width="3.4"/>
<text transform="translate(1007.5,18.0) scale(1,1.0)" font-size="25" text-anchor="start" font-weight="bold" fill="#000" stroke="#000" stroke-width="0.2" >OH</text>
<text transform="translate(1000.5,59.3) scale(1,1.04)" font-size="25" text-anchor="start" font-weight="bold" fill="#000" stroke="#000" stroke-width="0.2" >14</text>
<polyline points="920.6,41.0 920.6,65.6 952.8,85.1 952.8,123.8" fill="none" stroke="#000" stroke-width="3.4" stroke-linejoin="miter" stroke-linecap="butt"/>
<polyline points="919.1,64.0 895.5,77.8" fill="none" stroke="#000" stroke-width="3.4" stroke-linejoin="miter" stroke-linecap="butt"/>
<polyline points="922.1,69.2 898.5,83.0" fill="none" stroke="#000" stroke-width="3.4" stroke-linejoin="miter" stroke-linecap="butt"/>
<text transform="translate(886.5,93.8) scale(1,1.0)" font-size="25" text-anchor="middle" font-weight="bold" fill="#000" stroke="#000" stroke-width="0.2" >O</text>
<polygon points="952.6,123.8 985.0,141.0 985.0,179.9 952.6,197.8 919.5,179.9 919.5,141.0" fill="none" stroke="#000" stroke-width="3.4" stroke-linejoin="miter"/>
<polyline points="985.0,141.0 1018.0,123.8 1050.4,141.0 1050.4,179.9 1018.0,197.8 985.0,179.9" fill="none" stroke="#000" stroke-width="3.4" stroke-linejoin="miter" stroke-linecap="butt"/>
<polyline points="926.7,146.8 953.3,131.7" fill="none" stroke="#000" stroke-width="3.4" stroke-linejoin="miter" stroke-linecap="butt"/>
<polyline points="926.7,174.8 953.3,189.9" fill="none" stroke="#000" stroke-width="3.4" stroke-linejoin="miter" stroke-linecap="butt"/>
<polyline points="977.8,145.4 977.8,176.3" fill="none" stroke="#000" stroke-width="3.4" stroke-linejoin="miter" stroke-linecap="butt"/>
<polyline points="1017.3,131.7 1043.9,146.8" fill="none" stroke="#000" stroke-width="3.4" stroke-linejoin="miter" stroke-linecap="butt"/>
<polyline points="1017.3,189.9 1043.9,174.8" fill="none" stroke="#000" stroke-width="3.4" stroke-linejoin="miter" stroke-linecap="butt"/>
<polyline points="626.8,210.2 615.3,230.0" fill="none" stroke="#22903c" stroke-width="3.6" stroke-linejoin="miter" stroke-linecap="butt"/>
<polygon points="615.3,230.0 636.2,263.4 618.5,296.7 579.9,297.8 559.1,265.5 576.8,231.1" fill="none" stroke="#22903c" stroke-width="3.6" stroke-linejoin="miter"/>
<polyline points="611.2,236.3 627.8,264.4" fill="none" stroke="#22903c" stroke-width="3.6" stroke-linejoin="miter" stroke-linecap="butt"/>
<polyline points="583.0,289.4 615.3,288.4" fill="none" stroke="#22903c" stroke-width="3.6" stroke-linejoin="miter" stroke-linecap="butt"/>
<polyline points="568.4,266.5 583.0,239.4" fill="none" stroke="#22903c" stroke-width="3.6" stroke-linejoin="miter" stroke-linecap="butt"/>
<polyline points="579.9,297.8 569.5,335.3 589.3,347.8" fill="none" stroke="#22903c" stroke-width="3.6" stroke-linejoin="miter" stroke-linecap="butt"/>
<polyline points="610.1,347.8 630.0,333.2 618.5,296.7" fill="none" stroke="#22903c" stroke-width="3.6" stroke-linejoin="miter" stroke-linecap="butt"/>
<polyline points="629.2,337.4 654.2,344.0" fill="none" stroke="#22903c" stroke-width="3.6" stroke-linejoin="miter" stroke-linecap="butt"/>
<polyline points="630.8,331.6 655.8,338.2" fill="none" stroke="#22903c" stroke-width="3.6" stroke-linejoin="miter" stroke-linecap="butt"/>
<text transform="translate(666.5,351.5) scale(1,1.0)" font-size="25" text-anchor="middle" font-weight="bold" fill="#22903c" stroke="#22903c" stroke-width="0.2" >O</text>
<text transform="translate(599.7,364.2) scale(1,1.0)" font-size="24" text-anchor="middle" fill="#22903c" stroke="#22903c" stroke-width="0.35" >O</text>
<polygon points="483.0,260.3 518.4,248.8 546.5,272.8 540.3,310.3 505.9,322.8 476.7,298.8" fill="none" stroke="#22903c" stroke-width="3.6" stroke-linejoin="miter"/>
<polyline points="517.4,257.1 538.2,272.8" fill="none" stroke="#22903c" stroke-width="3.6" stroke-linejoin="miter" stroke-linecap="butt"/>
<polyline points="508.0,315.5 535.1,305.1" fill="none" stroke="#22903c" stroke-width="3.6" stroke-linejoin="miter" stroke-linecap="butt"/>
<polyline points="484.0,292.6 489.2,266.5" fill="none" stroke="#22903c" stroke-width="3.6" stroke-linejoin="miter" stroke-linecap="butt"/>
<text transform="translate(444.5,245.5) scale(1,1.0)" font-size="23" text-anchor="middle" font-weight="bold" fill="#22903c" stroke="#22903c" stroke-width="0.2" >HO</text>
<polyline points="463.2,245.7 483.0,260.3" fill="none" stroke="#22903c" stroke-width="3.6" stroke-linejoin="miter" stroke-linecap="butt"/>
<polyline points="540.3,310.3 569.5,335.3 564.3,370.7" fill="none" stroke="#22903c" stroke-width="3.6" stroke-linejoin="miter" stroke-linecap="butt"/>
<polyline points="505.9,322.8 501.5,346.0" fill="none" stroke="#22903c" stroke-width="3.6" stroke-linejoin="miter" stroke-linecap="butt"/>
<text transform="translate(499.6,369.2) scale(1,1.0)" font-size="24" text-anchor="middle" fill="#22903c" stroke="#22903c" stroke-width="0.35" >O</text>
<polyline points="508.0,370.0 527.8,383.3" fill="none" stroke="#22903c" stroke-width="3.6" stroke-linejoin="miter" stroke-linecap="butt"/>
<polygon points="527.8,383.3 564.3,370.7 592.4,395.8 587.2,433.3 551.8,445.8 521.5,421.8" fill="none" stroke="#22903c" stroke-width="3.6" stroke-linejoin="miter"/>
<polyline points="562.2,380.1 584.1,396.8" fill="none" stroke="#22903c" stroke-width="3.6" stroke-linejoin="miter" stroke-linecap="butt"/>
<polyline points="555.9,438.5 584.1,428.1" fill="none" stroke="#22903c" stroke-width="3.6" stroke-linejoin="miter" stroke-linecap="butt"/>
<polyline points="528.8,416.6 535.1,389.5" fill="none" stroke="#22903c" stroke-width="3.6" stroke-linejoin="miter" stroke-linecap="butt"/>
<polyline points="551.8,445.8 546.5,471.9" fill="none" stroke="#22903c" stroke-width="3.6" stroke-linejoin="miter" stroke-linecap="butt"/>
<text transform="translate(535.0,491.5) scale(1,1.0)" font-size="23" text-anchor="middle" font-weight="bold" fill="#22903c" stroke="#22903c" stroke-width="0.2" >HO</text>
<text transform="translate(421.0,22.5) scale(1,1.0)" font-size="42" text-anchor="start" font-weight="bold" fill="#000" stroke="#000" stroke-width="0.2" >a</text>
<text transform="translate(5.0,566.0) scale(1,1.0)" font-size="40" text-anchor="start" font-weight="bold" fill="#000" stroke="#000" stroke-width="0.2" >b</text>
<text transform="translate(497.0,566.0) scale(1,1.0)" font-size="42" text-anchor="start" font-weight="bold" fill="#000" stroke="#000" stroke-width="0.2" >c</text>
<text transform="translate(1052.0,566.0) scale(1,1.0)" font-size="41" text-anchor="start" font-weight="bold" fill="#000" stroke="#000" stroke-width="0.2" >d</text>
<text transform="translate(4.0,1103.0) scale(1,1.0)" font-size="42" text-anchor="start" font-weight="bold" fill="#000" stroke="#000" stroke-width="0.2" >e</text>
<text transform="translate(4.0,1631.0) scale(1,1.0)" font-size="40" text-anchor="start" font-weight="bold" fill="#000" stroke="#000" stroke-width="0.2" >f</text>
<text transform="translate(4.0,2214.0) scale(1,1.0)" font-size="42" text-anchor="start" font-weight="bold" fill="#000" stroke="#000" stroke-width="0.2" >g</text>
<text transform="translate(731.0,1069.6) scale(1,1.0)" font-size="33.6" text-anchor="middle" fill="#000" stroke="#000" stroke-width="0.35" >The distribution of micelles and AmB at 2 min</text>
<line x1="52.0" y1="1092.0" x2="1450.0" y2="1092.0" stroke="#000" stroke-width="2.9" stroke-linecap="butt"/>
<text transform="translate(729.6,1614.2) scale(1,1.0)" font-size="33.6" text-anchor="middle" fill="#000" stroke="#000" stroke-width="0.35" >The distribution of micelles and AmB at 15 min</text>
<line x1="52.0" y1="1637.0" x2="1450.0" y2="1637.0" stroke="#000" stroke-width="2.9" stroke-linecap="butt"/>
<text transform="translate(729.6,2179.8) scale(1,1.0)" font-size="33.6" text-anchor="middle" fill="#000" stroke="#000" stroke-width="0.35" >The distribution of micelles and AmB at 30 min</text>
<line x1="52.0" y1="2200.3" x2="1450.0" y2="2200.3" stroke="#000" stroke-width="2.9" stroke-linecap="butt"/>
<rect x="143.2" y="1272.0" width="57.8" height="203.4" fill="#fff" stroke="#636363" stroke-width="1.6"/>
<rect x="215.7" y="1455.7" width="57.8" height="19.7" fill="#fff" stroke="#636363" stroke-width="1.6"/>
<line x1="171.5" y1="1215.6" x2="171.5" y2="1330.3" stroke="#636363" stroke-width="2" stroke-linecap="butt"/>
<line x1="159.5" y1="1215.6" x2="183.5" y2="1215.6" stroke="#636363" stroke-width="2" stroke-linecap="butt"/>
<line x1="159.5" y1="1330.3" x2="183.5" y2="1330.3" stroke="#636363" stroke-width="2" stroke-linecap="butt"/>
<path d="M170.1 1198.3L179.1 1207.3L170.1 1216.3L161.1 1207.3Z" fill="#828282"/>
<path d="M166.8 1287.9L175.8 1296.9L166.8 1305.9L157.8 1296.9Z" fill="#828282"/>
<path d="M165.6 1306.7L174.6 1315.7L165.6 1324.7L156.6 1315.7Z" fill="#828282"/>
<path d="M235.5 1445.5L244.5 1454.5L235.5 1463.5L226.5 1454.5Z" fill="#828282"/>
<path d="M244.0 1446.7L253.0 1455.7L244.0 1464.7L235.0 1455.7Z" fill="#828282"/>
<path d="M251.5 1448.6L260.5 1457.6L251.5 1466.6L242.5 1457.6Z" fill="#828282"/>
<line x1="135.5" y1="1120.0" x2="135.5" y2="1476.8" stroke="#000" stroke-width="2.8" stroke-linecap="butt"/>
<line x1="134.1" y1="1475.4" x2="282.5" y2="1475.4" stroke="#000" stroke-width="2.8" stroke-linecap="butt"/>
<text transform="translate(132.5,1487.2) scale(1,1.04)" font-size="34" text-anchor="end" fill="#000" stroke="#000" stroke-width="0.35" >0</text>
<text transform="translate(132.5,1428.0) scale(1,1.04)" font-size="34" text-anchor="end" fill="#000" stroke="#000" stroke-width="0.35" >3</text>
<text transform="translate(132.5,1368.7) scale(1,1.04)" font-size="34" text-anchor="end" fill="#000" stroke="#000" stroke-width="0.35" >6</text>
<text transform="translate(132.5,1309.5) scale(1,1.04)" font-size="34" text-anchor="end" fill="#000" stroke="#000" stroke-width="0.35" >9</text>
<text transform="translate(132.5,1250.3) scale(1,1.04)" font-size="34" text-anchor="end" fill="#000" stroke="#000" stroke-width="0.35" >12</text>
<text transform="translate(132.5,1191.0) scale(1,1.04)" font-size="34" text-anchor="end" fill="#000" stroke="#000" stroke-width="0.35" >15</text>
<text transform="translate(132.5,1131.8) scale(1,1.04)" font-size="34" text-anchor="end" fill="#000" stroke="#000" stroke-width="0.35" >18</text>
<text transform="translate(88.8,1318.5) rotate(-90) scale(1,1)" stroke="#000" stroke-width="0.35" font-size="33" text-anchor="middle" fill="#000">μg/g in heart</text>
<text transform="translate(160.5,1178.0) scale(1,1.04)" font-size="32" text-anchor="start" font-weight="bold" fill="#000" stroke="#000" stroke-width="0.2" >10.3 : 1</text>
<text transform="translate(188.3,1508.9) rotate(-30) scale(1,1)" stroke="#000" stroke-width="0.35" font-size="33" text-anchor="end" fill="#000">Micelles</text>
<text transform="translate(260.8,1508.9) rotate(-30) scale(1,1)" stroke="#000" stroke-width="0.35" font-size="33" text-anchor="end" fill="#000">AmB</text>
<rect x="417.6" y="1258.6" width="57.8" height="216.8" fill="#fff" stroke="#636363" stroke-width="1.6"/>
<rect x="490.1" y="1455.4" width="57.8" height="20.0" fill="#fff" stroke="#636363" stroke-width="1.6"/>
<line x1="445.4" y1="1179.5" x2="445.4" y2="1337.7" stroke="#636363" stroke-width="2" stroke-linecap="butt"/>
<line x1="433.4" y1="1179.5" x2="457.4" y2="1179.5" stroke="#636363" stroke-width="2" stroke-linecap="butt"/>
<line x1="433.4" y1="1337.7" x2="457.4" y2="1337.7" stroke="#636363" stroke-width="2" stroke-linecap="butt"/>
<path d="M437.9 1160.8L446.9 1169.8L437.9 1178.8L428.9 1169.8Z" fill="#828282"/>
<path d="M440.0 1273.6L449.0 1282.6L440.0 1291.6L431.0 1282.6Z" fill="#828282"/>
<path d="M444.1 1313.6L453.1 1322.6L444.1 1331.6L435.1 1322.6Z" fill="#828282"/>
<path d="M508.8 1448.6L517.8 1457.6L508.8 1466.6L499.8 1457.6Z" fill="#828282"/>
<path d="M519.2 1446.9L528.2 1455.9L519.2 1464.9L510.2 1455.9Z" fill="#828282"/>
<path d="M526.3 1443.3L535.3 1452.3L526.3 1461.3L517.3 1452.3Z" fill="#828282"/>
<line x1="409.9" y1="1120.0" x2="409.9" y2="1476.8" stroke="#000" stroke-width="2.8" stroke-linecap="butt"/>
<line x1="408.5" y1="1475.4" x2="556.9" y2="1475.4" stroke="#000" stroke-width="2.8" stroke-linecap="butt"/>
<text transform="translate(406.9,1487.2) scale(1,1.04)" font-size="34" text-anchor="end" fill="#000" stroke="#000" stroke-width="0.35" >0</text>
<text transform="translate(406.9,1398.4) scale(1,1.04)" font-size="34" text-anchor="end" fill="#000" stroke="#000" stroke-width="0.35" >10</text>
<text transform="translate(406.9,1309.5) scale(1,1.04)" font-size="34" text-anchor="end" fill="#000" stroke="#000" stroke-width="0.35" >20</text>
<text transform="translate(406.9,1220.6) scale(1,1.04)" font-size="34" text-anchor="end" fill="#000" stroke="#000" stroke-width="0.35" >30</text>
<text transform="translate(406.9,1131.8) scale(1,1.04)" font-size="34" text-anchor="end" fill="#000" stroke="#000" stroke-width="0.35" >40</text>
<text transform="translate(362.0,1311.5) rotate(-90) scale(1,1)" stroke="#000" stroke-width="0.35" font-size="33" text-anchor="middle" fill="#000">μg/g in liver</text>
<text transform="translate(433.7,1158.4) scale(1,1.04)" font-size="32" text-anchor="start" font-weight="bold" fill="#000" stroke="#000" stroke-width="0.2" >10.7 : 1</text>
<text transform="translate(462.7,1508.9) rotate(-30) scale(1,1)" stroke="#000" stroke-width="0.35" font-size="33" text-anchor="end" fill="#000">Micelles</text>
<text transform="translate(535.2,1508.9) rotate(-30) scale(1,1)" stroke="#000" stroke-width="0.35" font-size="33" text-anchor="end" fill="#000">AmB</text>
<rect x="694.1" y="1241.7" width="57.8" height="233.7" fill="#fff" stroke="#636363" stroke-width="1.6"/>
<rect x="766.6" y="1447.0" width="57.8" height="28.4" fill="#fff" stroke="#636363" stroke-width="1.6"/>
<line x1="723.5" y1="1188.4" x2="723.5" y2="1295.0" stroke="#636363" stroke-width="2" stroke-linecap="butt"/>
<line x1="711.5" y1="1188.4" x2="735.5" y2="1188.4" stroke="#636363" stroke-width="2" stroke-linecap="butt"/>
<line x1="711.5" y1="1295.0" x2="735.5" y2="1295.0" stroke="#636363" stroke-width="2" stroke-linecap="butt"/>
<line x1="795.6" y1="1442.5" x2="795.6" y2="1450.5" stroke="#636363" stroke-width="2" stroke-linecap="butt"/>
<line x1="783.6" y1="1442.5" x2="807.6" y2="1442.5" stroke="#636363" stroke-width="2" stroke-linecap="butt"/>
<line x1="783.6" y1="1450.5" x2="807.6" y2="1450.5" stroke="#636363" stroke-width="2" stroke-linecap="butt"/>
<path d="M717.6 1174.1L726.6 1183.1L717.6 1192.1L708.6 1183.1Z" fill="#828282"/>
<path d="M716.4 1244.3L725.4 1253.3L716.4 1262.3L707.4 1253.3Z" fill="#828282"/>
<path d="M730.1 1279.8L739.1 1288.8L730.1 1297.8L721.1 1288.8Z" fill="#828282"/>
<path d="M788.5 1435.3L797.5 1444.3L788.5 1453.3L779.5 1444.3Z" fill="#828282"/>
<path d="M795.6 1442.4L804.6 1451.4L795.6 1460.4L786.6 1451.4Z" fill="#828282"/>
<line x1="686.4" y1="1120.0" x2="686.4" y2="1476.8" stroke="#000" stroke-width="2.8" stroke-linecap="butt"/>
<line x1="685.0" y1="1475.4" x2="833.4" y2="1475.4" stroke="#000" stroke-width="2.8" stroke-linecap="butt"/>
<text transform="translate(683.4,1487.2) scale(1,1.04)" font-size="34" text-anchor="end" fill="#000" stroke="#000" stroke-width="0.35" >0</text>
<text transform="translate(683.4,1398.4) scale(1,1.04)" font-size="34" text-anchor="end" fill="#000" stroke="#000" stroke-width="0.35" >10</text>
<text transform="translate(683.4,1309.5) scale(1,1.04)" font-size="34" text-anchor="end" fill="#000" stroke="#000" stroke-width="0.35" >20</text>
<text transform="translate(683.4,1220.6) scale(1,1.04)" font-size="34" text-anchor="end" fill="#000" stroke="#000" stroke-width="0.35" >30</text>
<text transform="translate(683.4,1131.8) scale(1,1.04)" font-size="34" text-anchor="end" fill="#000" stroke="#000" stroke-width="0.35" >40</text>
<text transform="translate(634.5,1330.0) rotate(-90) scale(1,1)" stroke="#000" stroke-width="0.35" font-size="33" text-anchor="middle" fill="#000">μg/g in spleen</text>
<text transform="translate(708.0,1158.4) scale(1,1.04)" font-size="32" text-anchor="start" font-weight="bold" fill="#000" stroke="#000" stroke-width="0.2" >8.3 : 1</text>
<text transform="translate(739.2,1508.9) rotate(-30) scale(1,1)" stroke="#000" stroke-width="0.35" font-size="33" text-anchor="end" fill="#000">Micelles</text>
<text transform="translate(811.7,1508.9) rotate(-30) scale(1,1)" stroke="#000" stroke-width="0.35" font-size="33" text-anchor="end" fill="#000">AmB</text>
<rect x="988.9" y="1246.4" width="57.8" height="229.0" fill="#fff" stroke="#636363" stroke-width="1.6"/>
<rect x="1061.4" y="1453.3" width="57.8" height="22.1" fill="#fff" stroke="#636363" stroke-width="1.6"/>
<line x1="1016.6" y1="1209.3" x2="1016.6" y2="1283.5" stroke="#636363" stroke-width="2" stroke-linecap="butt"/>
<line x1="1004.6" y1="1209.3" x2="1028.6" y2="1209.3" stroke="#636363" stroke-width="2" stroke-linecap="butt"/>
<line x1="1004.6" y1="1283.5" x2="1028.6" y2="1283.5" stroke="#636363" stroke-width="2" stroke-linecap="butt"/>
<path d="M1010.4 1200.3L1019.4 1209.3L1010.4 1218.3L1001.4 1209.3Z" fill="#828282"/>
<path d="M1011.2 1237.2L1020.2 1246.2L1011.2 1255.2L1002.2 1246.2Z" fill="#828282"/>
<path d="M1023.7 1274.5L1032.7 1283.5L1023.7 1292.5L1014.7 1283.5Z" fill="#828282"/>
<path d="M1081.3 1444.3L1090.3 1453.3L1081.3 1462.3L1072.3 1453.3Z" fill="#828282"/>
<path d="M1090.4 1445.5L1099.4 1454.5L1090.4 1463.5L1081.4 1454.5Z" fill="#828282"/>
<line x1="981.2" y1="1120.0" x2="981.2" y2="1476.8" stroke="#000" stroke-width="2.8" stroke-linecap="butt"/>
<line x1="979.8" y1="1475.4" x2="1128.2" y2="1475.4" stroke="#000" stroke-width="2.8" stroke-linecap="butt"/>
<text transform="translate(978.2,1487.2) scale(1,1.04)" font-size="34" text-anchor="end" fill="#000" stroke="#000" stroke-width="0.35" >0</text>
<text transform="translate(978.2,1398.4) scale(1,1.04)" font-size="34" text-anchor="end" fill="#000" stroke="#000" stroke-width="0.35" >200</text>
<text transform="translate(978.2,1309.5) scale(1,1.04)" font-size="34" text-anchor="end" fill="#000" stroke="#000" stroke-width="0.35" >400</text>
<text transform="translate(978.2,1220.6) scale(1,1.04)" font-size="34" text-anchor="end" fill="#000" stroke="#000" stroke-width="0.35" >600</text>
<text transform="translate(978.2,1131.8) scale(1,1.04)" font-size="34" text-anchor="end" fill="#000" stroke="#000" stroke-width="0.35" >800</text>
<text transform="translate(909.5,1297.0) rotate(-90) scale(1,1)" stroke="#000" stroke-width="0.35" font-size="33" text-anchor="middle" fill="#000">μg/g in lung</text>
<text transform="translate(1004.0,1158.4) scale(1,1.04)" font-size="32" text-anchor="start" font-weight="bold" fill="#000" stroke="#000" stroke-width="0.2" >10.5 : 1</text>
<text transform="translate(1034.0,1508.9) rotate(-30) scale(1,1)" stroke="#000" stroke-width="0.35" font-size="33" text-anchor="end" fill="#000">Micelles</text>
<text transform="translate(1106.5,1508.9) rotate(-30) scale(1,1)" stroke="#000" stroke-width="0.35" font-size="33" text-anchor="end" fill="#000">AmB</text>
<rect x="1286.3" y="1332.6" width="57.8" height="142.0" fill="#fff" stroke="#636363" stroke-width="1.6"/>
<rect x="1358.8" y="1465.4" width="57.8" height="9.2" fill="#fff" stroke="#636363" stroke-width="1.6"/>
<line x1="1315.0" y1="1208.3" x2="1315.0" y2="1458.0" stroke="#636363" stroke-width="2" stroke-linecap="butt"/>
<line x1="1303.0" y1="1208.3" x2="1327.0" y2="1208.3" stroke="#636363" stroke-width="2" stroke-linecap="butt"/>
<line x1="1303.0" y1="1458.0" x2="1327.0" y2="1458.0" stroke="#636363" stroke-width="2" stroke-linecap="butt"/>
<line x1="1386.6" y1="1460.5" x2="1386.6" y2="1465.8" stroke="#636363" stroke-width="2" stroke-linecap="butt"/>
<line x1="1374.6" y1="1460.5" x2="1398.6" y2="1460.5" stroke="#636363" stroke-width="2" stroke-linecap="butt"/>
<line x1="1374.6" y1="1465.8" x2="1398.6" y2="1465.8" stroke="#636363" stroke-width="2" stroke-linecap="butt"/>
<path d="M1308.3 1235.0L1317.3 1244.0L1308.3 1253.0L1299.3 1244.0Z" fill="#828282"/>
<path d="M1312.7 1270.6L1321.7 1279.6L1312.7 1288.6L1303.7 1279.6Z" fill="#828282"/>
<path d="M1309.8 1464.5L1318.8 1473.5L1309.8 1482.5L1300.8 1473.5Z" fill="#828282"/>
<path d="M1377.4 1461.4L1386.4 1470.4L1377.4 1479.4L1368.4 1470.4Z" fill="#828282"/>
<path d="M1385.2 1457.8L1394.2 1466.8L1385.2 1475.8L1376.2 1466.8Z" fill="#828282"/>
<path d="M1394.0 1450.1L1403.0 1459.1L1394.0 1468.1L1385.0 1459.1Z" fill="#828282"/>
<line x1="1278.6" y1="1121.4" x2="1278.6" y2="1476.0" stroke="#000" stroke-width="2.8" stroke-linecap="butt"/>
<line x1="1277.2" y1="1474.6" x2="1425.6" y2="1474.6" stroke="#000" stroke-width="2.8" stroke-linecap="butt"/>
<text transform="translate(1275.6,1486.4) scale(1,1.04)" font-size="34" text-anchor="end" fill="#000" stroke="#000" stroke-width="0.35" >0</text>
<text transform="translate(1275.6,1398.1) scale(1,1.04)" font-size="34" text-anchor="end" fill="#000" stroke="#000" stroke-width="0.35" >25</text>
<text transform="translate(1275.6,1309.8) scale(1,1.04)" font-size="34" text-anchor="end" fill="#000" stroke="#000" stroke-width="0.35" >50</text>
<text transform="translate(1275.6,1221.5) scale(1,1.04)" font-size="34" text-anchor="end" fill="#000" stroke="#000" stroke-width="0.35" >75</text>
<text transform="translate(1275.6,1133.2) scale(1,1.04)" font-size="34" text-anchor="end" fill="#000" stroke="#000" stroke-width="0.35" >100</text>
<text transform="translate(1207.7,1313.0) rotate(-90) scale(1,1)" stroke="#000" stroke-width="0.35" font-size="33" text-anchor="middle" fill="#000">μg/g in kidney</text>
<text transform="translate(1302.7,1158.1) scale(1,1.04)" font-size="32" text-anchor="start" font-weight="bold" fill="#000" stroke="#000" stroke-width="0.2" >14.6 : 1</text>
<text transform="translate(1331.4,1508.1) rotate(-30) scale(1,1)" stroke="#000" stroke-width="0.35" font-size="33" text-anchor="end" fill="#000">Micelles</text>
<text transform="translate(1403.9,1508.1) rotate(-30) scale(1,1)" stroke="#000" stroke-width="0.35" font-size="33" text-anchor="end" fill="#000">AmB</text>
<rect x="167.4" y="1867.7" width="57.8" height="156.4" fill="#fff" stroke="#636363" stroke-width="1.6"/>
<rect x="239.9" y="2008.7" width="57.8" height="15.4" fill="#fff" stroke="#636363" stroke-width="1.6"/>
<line x1="196.8" y1="1749.1" x2="196.8" y2="1986.5" stroke="#636363" stroke-width="2" stroke-linecap="butt"/>
<line x1="184.8" y1="1749.1" x2="208.8" y2="1749.1" stroke="#636363" stroke-width="2" stroke-linecap="butt"/>
<line x1="184.8" y1="1986.5" x2="208.8" y2="1986.5" stroke="#636363" stroke-width="2" stroke-linecap="butt"/>
<line x1="269.0" y1="1999.3" x2="269.0" y2="2017.7" stroke="#636363" stroke-width="2" stroke-linecap="butt"/>
<line x1="257.0" y1="1999.3" x2="281.0" y2="1999.3" stroke="#636363" stroke-width="2" stroke-linecap="butt"/>
<line x1="257.0" y1="2017.7" x2="281.0" y2="2017.7" stroke="#636363" stroke-width="2" stroke-linecap="butt"/>
<path d="M203.5 1740.1L212.5 1749.1L203.5 1758.1L194.5 1749.1Z" fill="#828282"/>
<path d="M192.7 1862.0L201.7 1871.0L192.7 1880.0L183.7 1871.0Z" fill="#828282"/>
<path d="M189.7 1976.1L198.7 1985.1L189.7 1994.1L180.7 1985.1Z" fill="#828282"/>
<path d="M259.4 1988.9L268.4 1997.9L259.4 2006.9L250.4 1997.9Z" fill="#828282"/>
<path d="M269.0 2000.5L278.0 2009.5L269.0 2018.5L260.0 2009.5Z" fill="#828282"/>
<path d="M270.2 2006.6L279.2 2015.6L270.2 2024.6L261.2 2015.6Z" fill="#828282"/>
<line x1="159.7" y1="1669.7" x2="159.7" y2="2025.5" stroke="#000" stroke-width="2.8" stroke-linecap="butt"/>
<line x1="158.3" y1="2024.1" x2="306.7" y2="2024.1" stroke="#000" stroke-width="2.8" stroke-linecap="butt"/>
<text transform="translate(156.7,2035.9) scale(1,1.04)" font-size="34" text-anchor="end" fill="#000" stroke="#000" stroke-width="0.35" >0</text>
<text transform="translate(156.7,1965.0) scale(1,1.04)" font-size="34" text-anchor="end" fill="#000" stroke="#000" stroke-width="0.35" >10</text>
<text transform="translate(156.7,1894.1) scale(1,1.04)" font-size="34" text-anchor="end" fill="#000" stroke="#000" stroke-width="0.35" >20</text>
<text transform="translate(156.7,1823.3) scale(1,1.04)" font-size="34" text-anchor="end" fill="#000" stroke="#000" stroke-width="0.35" >30</text>
<text transform="translate(156.7,1752.4) scale(1,1.04)" font-size="34" text-anchor="end" fill="#000" stroke="#000" stroke-width="0.35" >40</text>
<text transform="translate(156.7,1681.5) scale(1,1.04)" font-size="34" text-anchor="end" fill="#000" stroke="#000" stroke-width="0.35" >50</text>
<text transform="translate(88.8,1851.0) rotate(-90) scale(1,1)" stroke="#000" stroke-width="0.35" font-size="33" text-anchor="middle" fill="#000">μg/g in heart</text>
<text transform="translate(183.5,1707.2) scale(1,1.04)" font-size="32" text-anchor="start" font-weight="bold" fill="#000" stroke="#000" stroke-width="0.2" >10 : 1</text>
<text transform="translate(212.5,2057.6) rotate(-30) scale(1,1)" stroke="#000" stroke-width="0.35" font-size="33" text-anchor="end" fill="#000">Micelles</text>
<text transform="translate(285.0,2057.6) rotate(-30) scale(1,1)" stroke="#000" stroke-width="0.35" font-size="33" text-anchor="end" fill="#000">AmB</text>
<rect x="445.6" y="1884.4" width="57.8" height="139.7" fill="#fff" stroke="#636363" stroke-width="1.6"/>
<rect x="518.1" y="2015.2" width="57.8" height="8.9" fill="#fff" stroke="#636363" stroke-width="1.6"/>
<line x1="476.2" y1="1760.7" x2="476.2" y2="2007.4" stroke="#636363" stroke-width="2" stroke-linecap="butt"/>
<line x1="464.2" y1="1760.7" x2="488.2" y2="1760.7" stroke="#636363" stroke-width="2" stroke-linecap="butt"/>
<line x1="464.2" y1="2007.4" x2="488.2" y2="2007.4" stroke="#636363" stroke-width="2" stroke-linecap="butt"/>
<path d="M483.7 1739.8L492.7 1748.8L483.7 1757.8L474.7 1748.8Z" fill="#828282"/>
<path d="M469.1 1904.6L478.1 1913.6L469.1 1922.6L460.1 1913.6Z" fill="#828282"/>
<path d="M471.2 1980.5L480.2 1989.5L471.2 1998.5L462.2 1989.5Z" fill="#828282"/>
<path d="M540.0 2005.6L549.0 2014.6L540.0 2023.6L531.0 2014.6Z" fill="#828282"/>
<path d="M549.6 2007.1L558.6 2016.1L549.6 2025.1L540.6 2016.1Z" fill="#828282"/>
<line x1="437.9" y1="1669.7" x2="437.9" y2="2025.5" stroke="#000" stroke-width="2.8" stroke-linecap="butt"/>
<line x1="436.5" y1="2024.1" x2="584.9" y2="2024.1" stroke="#000" stroke-width="2.8" stroke-linecap="butt"/>
<text transform="translate(434.9,2035.9) scale(1,1.04)" font-size="34" text-anchor="end" fill="#000" stroke="#000" stroke-width="0.35" >0</text>
<text transform="translate(434.9,1947.3) scale(1,1.04)" font-size="34" text-anchor="end" fill="#000" stroke="#000" stroke-width="0.35" >30</text>
<text transform="translate(434.9,1858.7) scale(1,1.04)" font-size="34" text-anchor="end" fill="#000" stroke="#000" stroke-width="0.35" >60</text>
<text transform="translate(434.9,1770.1) scale(1,1.04)" font-size="34" text-anchor="end" fill="#000" stroke="#000" stroke-width="0.35" >90</text>
<text transform="translate(434.9,1681.5) scale(1,1.04)" font-size="34" text-anchor="end" fill="#000" stroke="#000" stroke-width="0.35" >120</text>
<text transform="translate(368.3,1843.8) rotate(-90) scale(1,1)" stroke="#000" stroke-width="0.35" font-size="33" text-anchor="middle" fill="#000">μg/g in liver</text>
<text transform="translate(462.9,1707.2) scale(1,1.04)" font-size="32" text-anchor="start" font-weight="bold" fill="#000" stroke="#000" stroke-width="0.2" >13.4 : 1</text>
<text transform="translate(490.7,2057.6) rotate(-30) scale(1,1)" stroke="#000" stroke-width="0.35" font-size="33" text-anchor="end" fill="#000">Micelles</text>
<text transform="translate(563.2,2057.6) rotate(-30) scale(1,1)" stroke="#000" stroke-width="0.35" font-size="33" text-anchor="end" fill="#000">AmB</text>
<rect x="727.4" y="1827.4" width="57.8" height="196.7" fill="#fff" stroke="#636363" stroke-width="1.6"/>
<rect x="799.9" y="2006.2" width="57.8" height="17.9" fill="#fff" stroke="#636363" stroke-width="1.6"/>
<line x1="756.0" y1="1760.1" x2="756.0" y2="1894.7" stroke="#636363" stroke-width="2" stroke-linecap="butt"/>
<line x1="744.0" y1="1760.1" x2="768.0" y2="1760.1" stroke="#636363" stroke-width="2" stroke-linecap="butt"/>
<line x1="744.0" y1="1894.7" x2="768.0" y2="1894.7" stroke="#636363" stroke-width="2" stroke-linecap="butt"/>
<line x1="828.7" y1="2001.9" x2="828.7" y2="2008.6" stroke="#636363" stroke-width="2" stroke-linecap="butt"/>
<line x1="816.7" y1="2001.9" x2="840.7" y2="2001.9" stroke="#636363" stroke-width="2" stroke-linecap="butt"/>
<line x1="816.7" y1="2008.6" x2="840.7" y2="2008.6" stroke="#636363" stroke-width="2" stroke-linecap="butt"/>
<path d="M749.7 1785.6L758.7 1794.6L749.7 1803.6L740.7 1794.6Z" fill="#828282"/>
<path d="M763.5 1773.2L772.5 1782.2L763.5 1791.2L754.5 1782.2Z" fill="#828282"/>
<path d="M750.6 1895.5L759.6 1904.5L750.6 1913.5L741.6 1904.5Z" fill="#828282"/>
<path d="M818.5 1990.3L827.5 1999.3L818.5 2008.3L809.5 1999.3Z" fill="#828282"/>
<path d="M828.1 1998.3L837.1 2007.3L828.1 2016.3L819.1 2007.3Z" fill="#828282"/>
<line x1="719.7" y1="1669.7" x2="719.7" y2="2025.5" stroke="#000" stroke-width="2.8" stroke-linecap="butt"/>
<line x1="718.3" y1="2024.1" x2="866.7" y2="2024.1" stroke="#000" stroke-width="2.8" stroke-linecap="butt"/>
<text transform="translate(716.7,2035.9) scale(1,1.04)" font-size="34" text-anchor="end" fill="#000" stroke="#000" stroke-width="0.35" >0</text>
<text transform="translate(716.7,1947.3) scale(1,1.04)" font-size="34" text-anchor="end" fill="#000" stroke="#000" stroke-width="0.35" >20</text>
<text transform="translate(716.7,1858.7) scale(1,1.04)" font-size="34" text-anchor="end" fill="#000" stroke="#000" stroke-width="0.35" >40</text>
<text transform="translate(716.7,1770.1) scale(1,1.04)" font-size="34" text-anchor="end" fill="#000" stroke="#000" stroke-width="0.35" >60</text>
<text transform="translate(716.7,1681.5) scale(1,1.04)" font-size="34" text-anchor="end" fill="#000" stroke="#000" stroke-width="0.35" >80</text>
<text transform="translate(646.8,1862.5) rotate(-90) scale(1,1)" stroke="#000" stroke-width="0.35" font-size="33" text-anchor="middle" fill="#000">μg/g in spleen</text>
<text transform="translate(743.5,1707.2) scale(1,1.04)" font-size="32" text-anchor="start" font-weight="bold" fill="#000" stroke="#000" stroke-width="0.2" >10.8 : 1</text>
<text transform="translate(772.5,2057.6) rotate(-30) scale(1,1)" stroke="#000" stroke-width="0.35" font-size="33" text-anchor="end" fill="#000">Micelles</text>
<text transform="translate(845.0,2057.6) rotate(-30) scale(1,1)" stroke="#000" stroke-width="0.35" font-size="33" text-anchor="end" fill="#000">AmB</text>
<rect x="1006.4" y="1753.6" width="57.8" height="270.5" fill="#fff" stroke="#636363" stroke-width="1.6"/>
<rect x="1078.9" y="1996.2" width="57.8" height="27.9" fill="#fff" stroke="#636363" stroke-width="1.6"/>
<line x1="1035.4" y1="1739.7" x2="1035.4" y2="1765.6" stroke="#636363" stroke-width="2" stroke-linecap="butt"/>
<line x1="1023.4" y1="1739.7" x2="1047.4" y2="1739.7" stroke="#636363" stroke-width="2" stroke-linecap="butt"/>
<line x1="1023.4" y1="1765.6" x2="1047.4" y2="1765.6" stroke="#636363" stroke-width="2" stroke-linecap="butt"/>
<line x1="1107.1" y1="1985.3" x2="1107.1" y2="2007.4" stroke="#636363" stroke-width="2" stroke-linecap="butt"/>
<line x1="1095.1" y1="1985.3" x2="1119.1" y2="1985.3" stroke="#636363" stroke-width="2" stroke-linecap="butt"/>
<line x1="1095.1" y1="2007.4" x2="1119.1" y2="2007.4" stroke="#636363" stroke-width="2" stroke-linecap="butt"/>
<path d="M1033.3 1731.6L1042.3 1740.6L1033.3 1749.6L1024.3 1740.6Z" fill="#828282"/>
<path d="M1029.1 1742.2L1038.1 1751.2L1029.1 1760.2L1020.1 1751.2Z" fill="#828282"/>
<path d="M1030.4 1758.8L1039.4 1767.8L1030.4 1776.8L1021.4 1767.8Z" fill="#828282"/>
<path d="M1114.6 1974.7L1123.6 1983.7L1114.6 1992.7L1105.6 1983.7Z" fill="#828282"/>
<path d="M1098.8 1992.2L1107.8 2001.2L1098.8 2010.2L1089.8 2001.2Z" fill="#828282"/>
<path d="M1109.6 1995.5L1118.6 2004.5L1109.6 2013.5L1100.6 2004.5Z" fill="#828282"/>
<line x1="998.7" y1="1669.7" x2="998.7" y2="2025.5" stroke="#000" stroke-width="2.8" stroke-linecap="butt"/>
<line x1="997.3" y1="2024.1" x2="1145.7" y2="2024.1" stroke="#000" stroke-width="2.8" stroke-linecap="butt"/>
<text transform="translate(995.7,2035.9) scale(1,1.04)" font-size="34" text-anchor="end" fill="#000" stroke="#000" stroke-width="0.35" >0</text>
<text transform="translate(995.7,1917.8) scale(1,1.04)" font-size="34" text-anchor="end" fill="#000" stroke="#000" stroke-width="0.35" >200</text>
<text transform="translate(995.7,1799.6) scale(1,1.04)" font-size="34" text-anchor="end" fill="#000" stroke="#000" stroke-width="0.35" >400</text>
<text transform="translate(995.7,1681.5) scale(1,1.04)" font-size="34" text-anchor="end" fill="#000" stroke="#000" stroke-width="0.35" >600</text>
<text transform="translate(928.3,1844.8) rotate(-90) scale(1,1)" stroke="#000" stroke-width="0.35" font-size="33" text-anchor="middle" fill="#000">μg/g in lung</text>
<text transform="translate(1020.8,1707.2) scale(1,1.04)" font-size="32" text-anchor="start" font-weight="bold" fill="#000" stroke="#000" stroke-width="0.2" >9.5 : 1</text>
<text transform="translate(1051.5,2057.6) rotate(-30) scale(1,1)" stroke="#000" stroke-width="0.35" font-size="33" text-anchor="end" fill="#000">Micelles</text>
<text transform="translate(1124.0,2057.6) rotate(-30) scale(1,1)" stroke="#000" stroke-width="0.35" font-size="33" text-anchor="end" fill="#000">AmB</text>
<rect x="1286.3" y="1840.8" width="57.8" height="183.8" fill="#fff" stroke="#636363" stroke-width="1.6"/>
<rect x="1358.8" y="2010.1" width="57.8" height="14.5" fill="#fff" stroke="#636363" stroke-width="1.6"/>
<line x1="1315.0" y1="1743.8" x2="1315.0" y2="1937.8" stroke="#636363" stroke-width="2" stroke-linecap="butt"/>
<line x1="1303.0" y1="1743.8" x2="1327.0" y2="1743.8" stroke="#636363" stroke-width="2" stroke-linecap="butt"/>
<line x1="1303.0" y1="1937.8" x2="1327.0" y2="1937.8" stroke="#636363" stroke-width="2" stroke-linecap="butt"/>
<path d="M1311.6 1730.4L1320.6 1739.4L1311.6 1748.4L1302.6 1739.4Z" fill="#828282"/>
<path d="M1309.8 1842.9L1318.8 1851.9L1309.8 1860.9L1300.8 1851.9Z" fill="#828282"/>
<path d="M1308.3 1923.0L1317.3 1932.0L1308.3 1941.0L1299.3 1932.0Z" fill="#828282"/>
<path d="M1378.5 2002.3L1387.5 2011.3L1378.5 2020.3L1369.5 2011.3Z" fill="#828282"/>
<path d="M1388.5 1997.9L1397.5 2006.9L1388.5 2015.9L1379.5 2006.9Z" fill="#828282"/>
<path d="M1394.0 2004.5L1403.0 2013.5L1394.0 2022.5L1385.0 2013.5Z" fill="#828282"/>
<line x1="1278.6" y1="1670.3" x2="1278.6" y2="2026.0" stroke="#000" stroke-width="2.8" stroke-linecap="butt"/>
<line x1="1277.2" y1="2024.6" x2="1425.6" y2="2024.6" stroke="#000" stroke-width="2.8" stroke-linecap="butt"/>
<text transform="translate(1275.6,2036.4) scale(1,1.04)" font-size="34" text-anchor="end" fill="#000" stroke="#000" stroke-width="0.35" >0</text>
<text transform="translate(1275.6,1947.8) scale(1,1.04)" font-size="34" text-anchor="end" fill="#000" stroke="#000" stroke-width="0.35" >20</text>
<text transform="translate(1275.6,1859.2) scale(1,1.04)" font-size="34" text-anchor="end" fill="#000" stroke="#000" stroke-width="0.35" >40</text>
<text transform="translate(1275.6,1770.7) scale(1,1.04)" font-size="34" text-anchor="end" fill="#000" stroke="#000" stroke-width="0.35" >60</text>
<text transform="translate(1275.6,1682.1) scale(1,1.04)" font-size="34" text-anchor="end" fill="#000" stroke="#000" stroke-width="0.35" >80</text>
<text transform="translate(1207.7,1860.8) rotate(-90) scale(1,1)" stroke="#000" stroke-width="0.35" font-size="33" text-anchor="middle" fill="#000">μg/g in kidney</text>
<text transform="translate(1302.7,1708.1) scale(1,1.04)" font-size="32" text-anchor="start" font-weight="bold" fill="#000" stroke="#000" stroke-width="0.2" >13 : 1</text>
<text transform="translate(1331.4,2058.1) rotate(-30) scale(1,1)" stroke="#000" stroke-width="0.35" font-size="33" text-anchor="end" fill="#000">Micelles</text>
<text transform="translate(1403.9,2058.1) rotate(-30) scale(1,1)" stroke="#000" stroke-width="0.35" font-size="33" text-anchor="end" fill="#000">AmB</text>
<rect x="167.4" y="2363.3" width="57.8" height="229.7" fill="#fff" stroke="#636363" stroke-width="1.6"/>
<rect x="239.9" y="2577.2" width="57.8" height="15.8" fill="#fff" stroke="#636363" stroke-width="1.6"/>
<line x1="196.8" y1="2352.6" x2="196.8" y2="2371.2" stroke="#636363" stroke-width="2" stroke-linecap="butt"/>
<line x1="184.8" y1="2352.6" x2="208.8" y2="2352.6" stroke="#636363" stroke-width="2" stroke-linecap="butt"/>
<line x1="184.8" y1="2371.2" x2="208.8" y2="2371.2" stroke="#636363" stroke-width="2" stroke-linecap="butt"/>
<line x1="269.0" y1="2572.6" x2="269.0" y2="2581.5" stroke="#636363" stroke-width="2" stroke-linecap="butt"/>
<line x1="257.0" y1="2572.6" x2="281.0" y2="2572.6" stroke="#636363" stroke-width="2" stroke-linecap="butt"/>
<line x1="257.0" y1="2581.5" x2="281.0" y2="2581.5" stroke="#636363" stroke-width="2" stroke-linecap="butt"/>
<path d="M189.7 2343.6L198.7 2352.6L189.7 2361.6L180.7 2352.6Z" fill="#828282"/>
<path d="M192.7 2359.6L201.7 2368.6L192.7 2377.6L183.7 2368.6Z" fill="#828282"/>
<path d="M203.5 2359.6L212.5 2368.6L203.5 2377.6L194.5 2368.6Z" fill="#828282"/>
<path d="M258.5 2560.9L267.5 2569.9L258.5 2578.9L249.5 2569.9Z" fill="#828282"/>
<path d="M266.9 2571.1L275.9 2580.1L266.9 2589.1L257.9 2580.1Z" fill="#828282"/>
<line x1="159.7" y1="2238.2" x2="159.7" y2="2594.4" stroke="#000" stroke-width="2.8" stroke-linecap="butt"/>
<line x1="158.3" y1="2593.0" x2="306.7" y2="2593.0" stroke="#000" stroke-width="2.8" stroke-linecap="butt"/>
<text transform="translate(156.7,2604.8) scale(1,1.04)" font-size="34" text-anchor="end" fill="#000" stroke="#000" stroke-width="0.35" >0</text>
<text transform="translate(156.7,2516.1) scale(1,1.04)" font-size="34" text-anchor="end" fill="#000" stroke="#000" stroke-width="0.35" >10</text>
<text transform="translate(156.7,2427.4) scale(1,1.04)" font-size="34" text-anchor="end" fill="#000" stroke="#000" stroke-width="0.35" >20</text>
<text transform="translate(156.7,2338.7) scale(1,1.04)" font-size="34" text-anchor="end" fill="#000" stroke="#000" stroke-width="0.35" >30</text>
<text transform="translate(156.7,2250.0) scale(1,1.04)" font-size="34" text-anchor="end" fill="#000" stroke="#000" stroke-width="0.35" >40</text>
<text transform="translate(88.8,2419.5) rotate(-90) scale(1,1)" stroke="#000" stroke-width="0.35" font-size="33" text-anchor="middle" fill="#000">μg/g in heart</text>
<text transform="translate(183.5,2275.7) scale(1,1.04)" font-size="32" text-anchor="start" font-weight="bold" fill="#000" stroke="#000" stroke-width="0.2" >14.6 : 1</text>
<text transform="translate(212.5,2626.5) rotate(-30) scale(1,1)" stroke="#000" stroke-width="0.35" font-size="33" text-anchor="end" fill="#000">Micelles</text>
<text transform="translate(285.0,2626.5) rotate(-30) scale(1,1)" stroke="#000" stroke-width="0.35" font-size="33" text-anchor="end" fill="#000">AmB</text>
<rect x="446.4" y="2387.6" width="57.8" height="205.4" fill="#fff" stroke="#636363" stroke-width="1.6"/>
<rect x="518.9" y="2576.0" width="57.8" height="17.0" fill="#fff" stroke="#636363" stroke-width="1.6"/>
<line x1="481.6" y1="2302.8" x2="481.6" y2="2471.7" stroke="#636363" stroke-width="2" stroke-linecap="butt"/>
<line x1="469.6" y1="2302.8" x2="493.6" y2="2302.8" stroke="#636363" stroke-width="2" stroke-linecap="butt"/>
<line x1="469.6" y1="2471.7" x2="493.6" y2="2471.7" stroke="#636363" stroke-width="2" stroke-linecap="butt"/>
<path d="M483.7 2285.6L492.7 2294.6L483.7 2303.6L474.7 2294.6Z" fill="#828282"/>
<path d="M473.3 2401.3L482.3 2410.3L473.3 2419.3L464.3 2410.3Z" fill="#828282"/>
<path d="M469.1 2449.2L478.1 2458.2L469.1 2467.2L460.1 2458.2Z" fill="#828282"/>
<path d="M540.0 2568.4L549.0 2577.4L540.0 2586.4L531.0 2577.4Z" fill="#828282"/>
<path d="M549.6 2562.0L558.6 2571.0L549.6 2580.0L540.6 2571.0Z" fill="#828282"/>
<line x1="438.7" y1="2238.2" x2="438.7" y2="2594.4" stroke="#000" stroke-width="2.8" stroke-linecap="butt"/>
<line x1="437.3" y1="2593.0" x2="585.7" y2="2593.0" stroke="#000" stroke-width="2.8" stroke-linecap="butt"/>
<text transform="translate(435.7,2604.8) scale(1,1.04)" font-size="34" text-anchor="end" fill="#000" stroke="#000" stroke-width="0.35" >0</text>
<text transform="translate(435.7,2533.8) scale(1,1.04)" font-size="34" text-anchor="end" fill="#000" stroke="#000" stroke-width="0.35" >20</text>
<text transform="translate(435.7,2462.9) scale(1,1.04)" font-size="34" text-anchor="end" fill="#000" stroke="#000" stroke-width="0.35" >40</text>
<text transform="translate(435.7,2391.9) scale(1,1.04)" font-size="34" text-anchor="end" fill="#000" stroke="#000" stroke-width="0.35" >60</text>
<text transform="translate(435.7,2321.0) scale(1,1.04)" font-size="34" text-anchor="end" fill="#000" stroke="#000" stroke-width="0.35" >80</text>
<text transform="translate(435.7,2250.0) scale(1,1.04)" font-size="34" text-anchor="end" fill="#000" stroke="#000" stroke-width="0.35" >100</text>
<text transform="translate(368.3,2411.2) rotate(-90) scale(1,1)" stroke="#000" stroke-width="0.35" font-size="33" text-anchor="middle" fill="#000">μg/g in liver</text>
<text transform="translate(462.9,2275.7) scale(1,1.04)" font-size="32" text-anchor="start" font-weight="bold" fill="#000" stroke="#000" stroke-width="0.2" >11.6 : 1</text>
<text transform="translate(491.5,2626.5) rotate(-30) scale(1,1)" stroke="#000" stroke-width="0.35" font-size="33" text-anchor="end" fill="#000">Micelles</text>
<text transform="translate(564.0,2626.5) rotate(-30) scale(1,1)" stroke="#000" stroke-width="0.35" font-size="33" text-anchor="end" fill="#000">AmB</text>
<rect x="727.4" y="2424.5" width="57.8" height="168.5" fill="#fff" stroke="#636363" stroke-width="1.6"/>
<rect x="799.9" y="2572.6" width="57.8" height="20.4" fill="#fff" stroke="#636363" stroke-width="1.6"/>
<line x1="761.4" y1="2325.7" x2="761.4" y2="2523.8" stroke="#636363" stroke-width="2" stroke-linecap="butt"/>
<line x1="749.4" y1="2325.7" x2="773.4" y2="2325.7" stroke="#636363" stroke-width="2" stroke-linecap="butt"/>
<line x1="749.4" y1="2523.8" x2="773.4" y2="2523.8" stroke="#636363" stroke-width="2" stroke-linecap="butt"/>
<path d="M749.7 2303.1L758.7 2312.1L749.7 2321.1L740.7 2312.1Z" fill="#828282"/>
<path d="M751.0 2454.5L760.0 2463.5L751.0 2472.5L742.0 2463.5Z" fill="#828282"/>
<path d="M763.5 2489.7L772.5 2498.7L763.5 2507.7L754.5 2498.7Z" fill="#828282"/>
<path d="M819.4 2562.7L828.4 2571.7L819.4 2580.7L810.4 2571.7Z" fill="#828282"/>
<path d="M829.0 2564.5L838.0 2573.5L829.0 2582.5L820.0 2573.5Z" fill="#828282"/>
<line x1="719.7" y1="2238.2" x2="719.7" y2="2594.4" stroke="#000" stroke-width="2.8" stroke-linecap="butt"/>
<line x1="718.3" y1="2593.0" x2="866.7" y2="2593.0" stroke="#000" stroke-width="2.8" stroke-linecap="butt"/>
<text transform="translate(716.7,2604.8) scale(1,1.04)" font-size="34" text-anchor="end" fill="#000" stroke="#000" stroke-width="0.35" >0</text>
<text transform="translate(716.7,2516.1) scale(1,1.04)" font-size="34" text-anchor="end" fill="#000" stroke="#000" stroke-width="0.35" >30</text>
<text transform="translate(716.7,2427.4) scale(1,1.04)" font-size="34" text-anchor="end" fill="#000" stroke="#000" stroke-width="0.35" >60</text>
<text transform="translate(716.7,2338.7) scale(1,1.04)" font-size="34" text-anchor="end" fill="#000" stroke="#000" stroke-width="0.35" >90</text>
<text transform="translate(716.7,2250.0) scale(1,1.04)" font-size="34" text-anchor="end" fill="#000" stroke="#000" stroke-width="0.35" >120</text>
<text transform="translate(646.8,2431.0) rotate(-90) scale(1,1)" stroke="#000" stroke-width="0.35" font-size="33" text-anchor="middle" fill="#000">μg/g in spleen</text>
<text transform="translate(741.4,2275.7) scale(1,1.04)" font-size="32" text-anchor="start" font-weight="bold" fill="#000" stroke="#000" stroke-width="0.2" >8.0 : 1</text>
<text transform="translate(772.5,2626.5) rotate(-30) scale(1,1)" stroke="#000" stroke-width="0.35" font-size="33" text-anchor="end" fill="#000">Micelles</text>
<text transform="translate(845.0,2626.5) rotate(-30) scale(1,1)" stroke="#000" stroke-width="0.35" font-size="33" text-anchor="end" fill="#000">AmB</text>
<rect x="1006.4" y="2382.0" width="57.8" height="211.0" fill="#fff" stroke="#636363" stroke-width="1.6"/>
<rect x="1078.9" y="2578.9" width="57.8" height="14.1" fill="#fff" stroke="#636363" stroke-width="1.6"/>
<line x1="1035.4" y1="2332.0" x2="1035.4" y2="2432.9" stroke="#636363" stroke-width="2" stroke-linecap="butt"/>
<line x1="1023.4" y1="2332.0" x2="1047.4" y2="2332.0" stroke="#636363" stroke-width="2" stroke-linecap="butt"/>
<line x1="1023.4" y1="2432.9" x2="1047.4" y2="2432.9" stroke="#636363" stroke-width="2" stroke-linecap="butt"/>
<path d="M1033.3 2336.3L1042.3 2345.3L1033.3 2354.3L1024.3 2345.3Z" fill="#828282"/>
<path d="M1029.1 2352.2L1038.1 2361.2L1029.1 2370.2L1020.1 2361.2Z" fill="#828282"/>
<path d="M1030.4 2430.7L1039.4 2439.7L1030.4 2448.7L1021.4 2439.7Z" fill="#828282"/>
<path d="M1098.8 2573.2L1107.8 2582.2L1098.8 2591.2L1089.8 2582.2Z" fill="#828282"/>
<path d="M1109.6 2564.9L1118.6 2573.9L1109.6 2582.9L1100.6 2573.9Z" fill="#828282"/>
<path d="M1116.7 2569.9L1125.7 2578.9L1116.7 2587.9L1107.7 2578.9Z" fill="#828282"/>
<line x1="998.7" y1="2238.2" x2="998.7" y2="2594.4" stroke="#000" stroke-width="2.8" stroke-linecap="butt"/>
<line x1="997.3" y1="2593.0" x2="1145.7" y2="2593.0" stroke="#000" stroke-width="2.8" stroke-linecap="butt"/>
<text transform="translate(995.7,2604.8) scale(1,1.04)" font-size="34" text-anchor="end" fill="#000" stroke="#000" stroke-width="0.35" >0</text>
<text transform="translate(995.7,2533.8) scale(1,1.04)" font-size="34" text-anchor="end" fill="#000" stroke="#000" stroke-width="0.35" >100</text>
<text transform="translate(995.7,2462.9) scale(1,1.04)" font-size="34" text-anchor="end" fill="#000" stroke="#000" stroke-width="0.35" >200</text>
<text transform="translate(995.7,2391.9) scale(1,1.04)" font-size="34" text-anchor="end" fill="#000" stroke="#000" stroke-width="0.35" >300</text>
<text transform="translate(995.7,2321.0) scale(1,1.04)" font-size="34" text-anchor="end" fill="#000" stroke="#000" stroke-width="0.35" >400</text>
<text transform="translate(995.7,2250.0) scale(1,1.04)" font-size="34" text-anchor="end" fill="#000" stroke="#000" stroke-width="0.35" >500</text>
<text transform="translate(928.3,2413.3) rotate(-90) scale(1,1)" stroke="#000" stroke-width="0.35" font-size="33" text-anchor="middle" fill="#000">μg/g in lung</text>
<text transform="translate(1020.8,2275.7) scale(1,1.04)" font-size="32" text-anchor="start" font-weight="bold" fill="#000" stroke="#000" stroke-width="0.2" >14.6 : 1</text>
<text transform="translate(1051.5,2626.5) rotate(-30) scale(1,1)" stroke="#000" stroke-width="0.35" font-size="33" text-anchor="end" fill="#000">Micelles</text>
<text transform="translate(1124.0,2626.5) rotate(-30) scale(1,1)" stroke="#000" stroke-width="0.35" font-size="33" text-anchor="end" fill="#000">AmB</text>
<rect x="1286.3" y="2480.1" width="57.8" height="112.8" fill="#fff" stroke="#636363" stroke-width="1.6"/>
<rect x="1358.8" y="2580.5" width="57.8" height="12.4" fill="#fff" stroke="#636363" stroke-width="1.6"/>
<line x1="1315.0" y1="2362.0" x2="1315.0" y2="2592.9" stroke="#636363" stroke-width="2" stroke-linecap="butt"/>
<line x1="1303.0" y1="2362.0" x2="1327.0" y2="2362.0" stroke="#636363" stroke-width="2" stroke-linecap="butt"/>
<path d="M1312.7 2338.8L1321.7 2347.8L1312.7 2356.8L1303.7 2347.8Z" fill="#828282"/>
<path d="M1309.8 2508.3L1318.8 2517.3L1309.8 2526.3L1300.8 2517.3Z" fill="#828282"/>
<path d="M1308.3 2568.4L1317.3 2577.4L1308.3 2586.4L1299.3 2577.4Z" fill="#828282"/>
<path d="M1377.4 2575.5L1386.4 2584.5L1377.4 2593.5L1368.4 2584.5Z" fill="#828282"/>
<path d="M1388.5 2567.1L1397.5 2576.1L1388.5 2585.1L1379.5 2576.1Z" fill="#828282"/>
<path d="M1394.0 2571.5L1403.0 2580.5L1394.0 2589.5L1385.0 2580.5Z" fill="#828282"/>
<line x1="1278.6" y1="2239.0" x2="1278.6" y2="2594.3" stroke="#000" stroke-width="2.8" stroke-linecap="butt"/>
<line x1="1277.2" y1="2592.9" x2="1425.6" y2="2592.9" stroke="#000" stroke-width="2.8" stroke-linecap="butt"/>
<text transform="translate(1275.6,2604.7) scale(1,1.04)" font-size="34" text-anchor="end" fill="#000" stroke="#000" stroke-width="0.35" >0</text>
<text transform="translate(1275.6,2516.2) scale(1,1.04)" font-size="34" text-anchor="end" fill="#000" stroke="#000" stroke-width="0.35" >20</text>
<text transform="translate(1275.6,2427.8) scale(1,1.04)" font-size="34" text-anchor="end" fill="#000" stroke="#000" stroke-width="0.35" >40</text>
<text transform="translate(1275.6,2339.3) scale(1,1.04)" font-size="34" text-anchor="end" fill="#000" stroke="#000" stroke-width="0.35" >60</text>
<text transform="translate(1275.6,2250.8) scale(1,1.04)" font-size="34" text-anchor="end" fill="#000" stroke="#000" stroke-width="0.35" >80</text>
<text transform="translate(1207.7,2430.2) rotate(-90) scale(1,1)" stroke="#000" stroke-width="0.35" font-size="33" text-anchor="middle" fill="#000">μg/g in kidney</text>
<text transform="translate(1300.5,2276.4) scale(1,1.04)" font-size="32" text-anchor="start" font-weight="bold" fill="#000" stroke="#000" stroke-width="0.2" >8.9 : 1</text>
<text transform="translate(1331.4,2626.4) rotate(-30) scale(1,1)" stroke="#000" stroke-width="0.35" font-size="33" text-anchor="end" fill="#000">Micelles</text>
<text transform="translate(1403.9,2626.4) rotate(-30) scale(1,1)" stroke="#000" stroke-width="0.35" font-size="33" text-anchor="end" fill="#000">AmB</text>
</svg></body></html>
